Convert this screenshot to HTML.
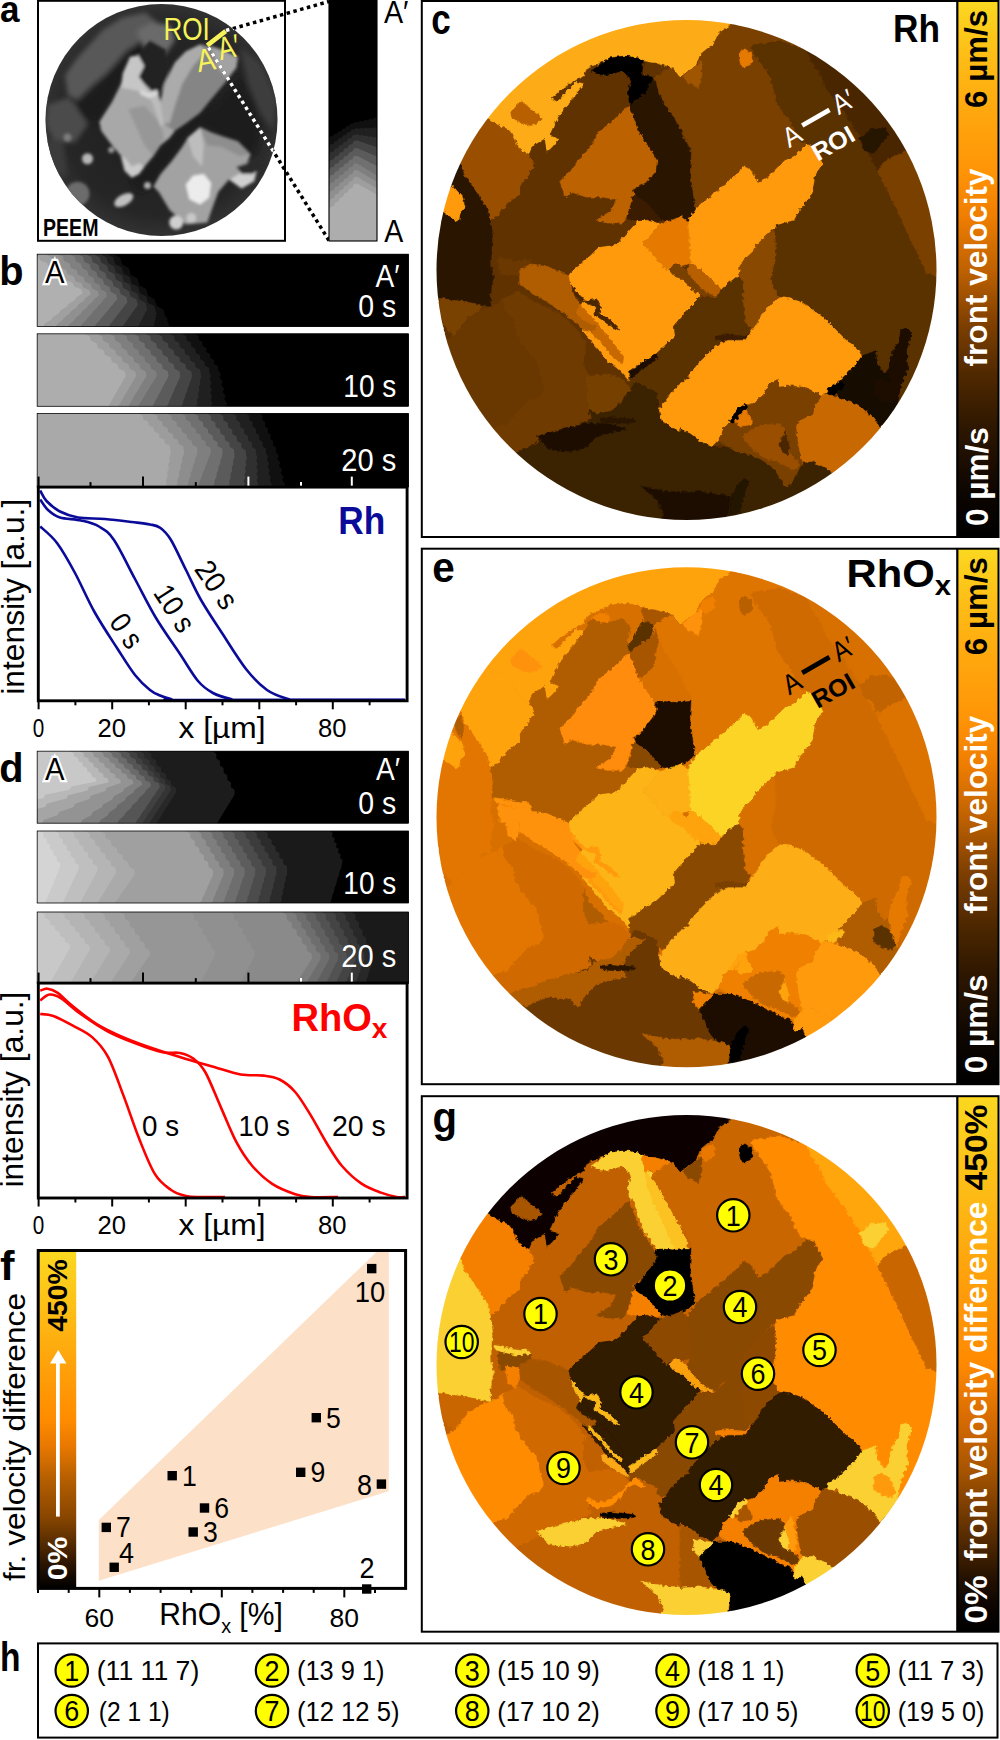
<!DOCTYPE html>
<html><head><meta charset="utf-8"><title>Figure</title>
<style>
html,body{margin:0;padding:0;background:#fff;}
svg{display:block;}
text{font-family:"Liberation Sans", sans-serif;}
</style></head><body>
<svg width="1000" height="1740" viewBox="0 0 1000 1740">
<rect x="0" y="0" width="1000" height="1740" fill="#fff"/>
<defs>
<clipPath id="peemclip"><circle cx="161.5" cy="120" r="116"/></clipPath>
<filter id="bl3" x="-20%" y="-20%" width="140%" height="140%"><feGaussianBlur stdDeviation="2.6"/></filter>
<filter id="bl2" x="-20%" y="-20%" width="140%" height="140%"><feGaussianBlur stdDeviation="1.6"/></filter>
<filter id="bl1" x="-20%" y="-20%" width="140%" height="140%"><feGaussianBlur stdDeviation="0.7"/></filter>
<radialGradient id="peembg" cx="0.5" cy="0.5" r="0.5"><stop offset="0" stop-color="#1c1c1c"/><stop offset="0.8" stop-color="#262626"/><stop offset="1" stop-color="#343434"/></radialGradient>
</defs>
<g clip-path="url(#peemclip)">
<rect x="40" y="0" width="245" height="240" fill="url(#peembg)"/>
<g filter="url(#bl3)">
<polygon points="65.0,75.0 77.5,57.5 102.5,30.0 122.5,17.5 145.0,12.5 157.5,22.5 147.5,37.5 127.5,50.0 107.5,72.5 90.0,87.5 77.5,100.0 67.5,95.0" fill="#595959"/>
<polygon points="47.5,105.0 67.5,97.5 82.5,110.0 87.5,125.0 75.0,142.5 55.0,142.5 46.2,125.0" fill="#4c4c4c"/>
<polygon points="137.5,30.0 152.5,22.5 170.0,25.0 175.0,40.0 165.0,55.0 150.0,60.0 140.0,50.0" fill="#6a6a6a"/>
<polygon points="45.0,140.0 62.5,140.0 67.5,175.0 50.0,175.0" fill="#3a3a3a"/>
<polygon points="240.0,47.5 260.0,62.5 277.5,100.0 272.5,130.0 260.0,112.5 247.5,82.5" fill="#3c3c3c"/>
<polygon points="75.0,105.0 105.0,77.5 125.0,57.5 140.0,40.0 152.5,60.0 122.5,82.5 100.0,122.5 85.0,120.0" fill="#1b1b1b"/>
<polygon points="130.0,179.4 144.4,166.8 160.6,145.2 175.0,130.8 185.8,123.6 200.2,112.8 211.0,120.0 200.2,127.2 187.6,138.0 171.4,161.4 160.6,174.0 153.4,186.6 139.0,192.0" fill="#1a1a1a"/>
<polygon points="180.0,120.0 215.0,105.0 240.0,75.0 255.0,105.0 260.0,140.0 252.5,157.5 230.0,142.5 200.0,126.2" fill="#1e1e1e"/>
</g>
<g filter="url(#bl2)">
<polygon points="160.6,102.0 164.2,84.0 175.0,62.4 185.8,51.6 200.2,44.4 211.0,46.2 221.8,49.8 238.0,57.0 236.2,67.8 225.4,82.2 216.4,93.0 207.4,103.8 200.2,112.8 185.8,123.6 175.0,130.8 164.2,123.6" fill="#858585"/>
<polygon points="160.6,102.0 164.2,84.0 175.0,62.4 185.8,51.6 200.2,44.4 205.6,51.6 193.0,66.0 182.2,84.0 175.0,105.6 169.6,123.6 164.2,123.6" fill="#ababab"/>
<polygon points="211.0,46.2 221.8,49.8 238.0,57.0 236.2,67.8 227.2,78.6 216.4,66.0" fill="#a2a2a2"/>
<polygon points="130.0,57.0 121.0,84.0 112.0,102.0 99.4,121.8 101.2,130.8 112.0,145.2 121.0,156.0 124.6,170.4 131.8,177.6 139.0,174.0 144.4,166.8 153.4,156.0 160.6,145.2 169.6,138.0 175.0,130.8 164.2,123.6 160.6,102.0 157.0,89.4 144.4,84.0 139.0,76.8 144.4,66.0 139.0,55.2" fill="#a8a8a8"/>
<polygon points="130.0,57.0 122.8,73.2 121.0,87.6 131.8,89.4 140.8,91.2 151.6,98.4 158.8,94.8 157.0,89.4 151.6,91.2 144.4,84.0 139.0,76.8 144.4,66.0 139.0,55.2" fill="#c6c6c6"/>
<polygon points="128.2,109.2 144.4,105.6 160.6,123.6 164.2,138.0 153.4,156.0 144.4,145.2" fill="#979797"/>
<polygon points="121.0,156.0 124.6,170.4 131.8,177.6 139.0,174.0 144.4,166.8 139.0,163.2 131.8,166.8 126.4,159.6" fill="#cacaca"/>
<polygon points="144.4,84.0 157.0,89.4 160.6,102.0 164.2,123.6 160.6,127.2 153.4,105.6" fill="#bcbcbc"/>
<polygon points="137.2,53.4 149.8,40.8 166.0,49.8 167.8,73.2 162.4,89.4 158.8,94.8 157.0,89.4 151.6,91.2 144.4,84.0 139.0,76.8 144.4,66.0" fill="#242424"/>
<polygon points="139.0,89.4 148.0,93.0 157.0,90.3 157.9,94.8 149.8,98.4 140.8,94.8" fill="#d8d8d8"/>
<polygon points="187.6,138.0 200.2,127.2 211.0,132.6 221.8,136.2 238.0,141.6 250.6,154.2 247.0,163.2 238.0,174.0 229.0,179.4 218.2,192.0 211.0,211.8 207.4,222.6 185.8,224.4 169.6,210.0 158.8,192.0 153.4,186.6 160.6,174.0 171.4,161.4 182.2,147.0" fill="#a2a2a2"/>
<polygon points="187.6,138.0 200.2,127.2 203.8,145.2 202.0,166.8 193.0,156.0" fill="#bdbdbd"/>
<polygon points="200.2,127.2 211.0,132.6 221.8,136.2 238.0,141.6 250.6,154.2 239.8,156.0 221.8,147.0 207.4,145.2" fill="#8e8e8e"/>
<polygon points="185.8,184.8 193.0,175.8 203.8,174.0 211.0,183.0 209.2,197.4 200.2,204.6 189.4,199.2" fill="#ececec"/>
<polygon points="229.0,179.4 238.0,174.0 247.0,163.2 257.8,166.8 254.2,181.2 241.6,188.4" fill="#d0d0d0"/>
<polygon points="236.2,166.8 247.0,163.2 257.8,156.0 265.0,166.8 252.4,174.0 241.6,174.0" fill="#2a2a2a"/>
<circle cx="87.5" cy="158.75" r="5.5" fill="#b8b8b8"/>
<circle cx="77.5" cy="193.75" r="12.0" fill="#6c6c6c"/>
<ellipse cx="123.75" cy="200.0" rx="10.5" ry="5.5" fill="#c0c0c0" transform="rotate(-30 123.75 200.0)"/>
<circle cx="147.5" cy="185.5" r="3.5" fill="#b0b0b0"/>
<circle cx="176.25" cy="222.5" r="7.0" fill="#cfcfcf"/>
<circle cx="191.25" cy="218.0" r="5.0" fill="#c8c8c8"/>
<circle cx="111.25" cy="150.0" r="3.0" fill="#9a9a9a"/>
<circle cx="67.5" cy="137.5" r="4.0" fill="#7c7c7c"/>
<circle cx="93.75" cy="226.25" r="7.5" fill="#3e3e3e"/>
</g>
</g>
<rect x="38" y="0.8" width="247" height="240" fill="none" stroke="#000" stroke-width="2"/>
<text x="43" y="235.5" font-size="24.5" fill="#000" font-weight="bold" textLength="55.5" lengthAdjust="spacingAndGlyphs">PEEM</text>
<text x="0" y="21.5" font-size="36" fill="#000" font-weight="bold" textLength="19.5" lengthAdjust="spacingAndGlyphs">a</text>
<text x="163.4" y="39.5" font-size="31.4" fill="#f6f25a" textLength="46.4" lengthAdjust="spacingAndGlyphs">ROI</text>
<text x="198.6" y="72.3" font-size="32" fill="#f6f25a" textLength="18.5" lengthAdjust="spacingAndGlyphs" transform="rotate(-10 198.6 72.3)">A</text>
<text x="220.6" y="60.3" font-size="32" fill="#f6f25a" textLength="21.5" lengthAdjust="spacingAndGlyphs" transform="rotate(-13 220.6 60.3)">A′</text>
<line x1="207.3" y1="45.3" x2="225.7" y2="31.2" stroke="#f6f25a" stroke-width="4.6"/>
<line x1="226" y1="30.5" x2="329" y2="1.5" stroke="#000" stroke-width="3.5" stroke-dasharray="3.5 3.5"/>
<line x1="226" y1="30.5" x2="329" y2="1.5" stroke="#fff" stroke-width="3.5" stroke-dasharray="3.5 3.5" clip-path="url(#peemclip)"/>
<line x1="208.5" y1="47.5" x2="329" y2="240.5" stroke="#000" stroke-width="3.5" stroke-dasharray="3.5 3.5"/>
<line x1="208.5" y1="47.5" x2="329" y2="240.5" stroke="#fff" stroke-width="3.5" stroke-dasharray="3.5 3.5" clip-path="url(#peemclip)"/>
<g transform="translate(329,241) rotate(-90) scale(0.6494,0.662) translate(-37.2,-333.8)">
<clipPath id="sc1"><rect x="37.2" y="333.8" width="371.1" height="72.5"/></clipPath>
<g clip-path="url(#sc1)">
<rect x="37.2" y="333.8" width="371.1" height="72.5" fill="#adadad"/>
<polygon points="84.0,333.8 89.7,336.3 91.0,340.8 96.6,343.3 97.9,347.8 103.6,350.3 104.9,354.8 110.6,357.3 111.9,361.8 117.5,364.3 118.8,368.8 124.5,371.3 125.8,375.9 123.8,379.5 122.3,381.9 120.3,385.6 118.8,388.0 116.8,391.7 115.3,394.1 113.3,397.8 111.8,400.2 109.8,403.9 108.3,406.3 413.3,406.3 413.3,333.8" fill="#9e9e9e"/>
<polygon points="96.6,333.8 102.1,336.3 103.2,340.8 108.7,343.3 109.8,347.8 115.2,350.3 116.4,354.8 121.8,357.3 123.0,361.8 128.4,364.3 129.6,368.8 135.0,371.3 136.2,375.9 134.1,379.5 132.6,381.9 130.5,385.6 129.0,388.0 126.9,391.7 125.4,394.1 123.3,397.8 121.8,400.2 119.7,403.9 118.2,406.3 413.3,406.3 413.3,333.8" fill="#8f8f8f"/>
<polygon points="109.2,333.8 114.4,336.3 115.4,340.8 120.7,343.3 121.6,347.8 126.9,350.3 127.9,354.8 133.1,357.3 134.1,361.8 139.3,364.3 140.3,368.8 145.5,371.3 146.5,375.9 144.3,379.5 142.8,381.9 140.7,385.6 139.2,388.0 137.0,391.7 135.5,394.1 133.3,397.8 131.8,400.2 129.6,403.9 128.1,406.3 413.3,406.3 413.3,333.8" fill="#7f7f7f"/>
<polygon points="121.8,333.8 126.8,336.3 127.7,340.8 132.7,343.3 133.5,347.8 138.5,350.3 139.3,354.8 144.4,357.3 145.2,361.8 150.2,364.3 151.1,368.8 156.1,371.3 156.9,375.9 154.6,379.5 153.1,381.9 150.8,385.6 149.3,388.0 147.1,391.7 145.6,394.1 143.3,397.8 141.8,400.2 139.5,403.9 138.0,406.3 413.3,406.3 413.3,333.8" fill="#707070"/>
<polygon points="133.5,333.8 138.5,336.3 139.3,340.8 144.4,343.3 145.2,347.8 150.2,350.3 151.1,354.8 156.1,357.3 156.9,361.8 161.9,364.3 162.8,368.8 167.8,371.3 168.6,375.9 166.9,379.5 165.4,381.9 163.6,385.6 162.1,388.0 160.4,391.7 158.9,394.1 157.1,397.8 155.6,400.2 153.9,403.9 152.4,406.3 413.3,406.3 413.3,333.8" fill="#5b5b5b"/>
<polygon points="145.2,333.8 150.2,336.3 151.0,340.8 156.1,343.3 156.9,347.8 161.9,350.3 162.8,354.8 167.8,357.3 168.6,361.8 173.6,364.3 174.5,368.8 179.5,371.3 180.3,375.9 179.1,379.5 177.6,381.9 176.4,385.6 174.9,388.0 173.7,391.7 172.2,394.1 171.0,397.8 169.5,400.2 168.3,403.9 166.8,406.3 413.3,406.3 413.3,333.8" fill="#454545"/>
<polygon points="156.9,333.8 161.9,336.3 162.8,340.8 167.8,343.3 168.6,347.8 173.6,350.3 174.4,354.8 179.5,357.3 180.3,361.8 185.3,364.3 186.2,368.8 191.2,371.3 192.0,375.9 191.3,379.5 189.8,381.9 189.2,385.6 187.7,388.0 187.0,391.7 185.5,394.1 184.9,397.8 183.4,400.2 182.7,403.9 181.2,406.3 413.3,406.3 413.3,333.8" fill="#303030"/>
<polygon points="169.5,333.8 174.1,336.1 174.7,340.5 179.3,342.8 179.9,347.2 184.5,349.5 185.1,353.9 189.7,356.2 190.3,360.5 194.9,362.9 195.5,367.2 200.1,369.6 200.7,373.9 201.2,377.8 199.7,380.4 200.3,384.3 198.8,386.9 199.4,390.8 197.9,393.3 198.5,397.2 197.0,399.8 197.5,403.7 196.0,406.3 413.3,406.3 413.3,333.8" fill="#202020"/>
<polygon points="182.1,333.8 186.3,336.0 186.6,340.2 190.9,342.4 191.2,346.5 195.4,348.8 195.7,352.9 199.9,355.1 200.3,359.3 204.5,361.5 204.8,365.6 209.0,367.8 209.3,372.0 211.1,376.1 209.6,378.8 211.4,383.0 209.9,385.7 211.8,389.8 210.3,392.6 212.1,396.7 210.6,399.4 212.4,403.6 210.9,406.3 413.3,406.3 413.3,333.8" fill="#101010"/>
<polygon points="194.7,333.8 198.5,335.9 198.6,339.8 202.4,342.0 202.5,345.9 206.3,348.0 206.3,351.9 210.2,354.0 210.2,358.0 214.1,360.1 214.1,364.0 217.9,366.1 218.0,370.1 221.0,374.4 219.5,377.3 222.6,381.7 221.1,384.6 224.1,388.9 222.6,391.8 225.7,396.2 224.2,399.1 227.2,403.4 225.7,406.3 413.3,406.3 413.3,333.8" fill="#000000"/>
</g>
<rect x="37.2" y="333.8" width="371.1" height="72.5" fill="none" stroke="#000" stroke-width="0.8"/>
</g>
<rect x="329" y="0.4" width="48" height="240.6" fill="none" stroke="#000" stroke-width="0.8"/>
<text x="384" y="22.8" font-size="32" fill="#000" textLength="24.5" lengthAdjust="spacingAndGlyphs">A′</text>
<text x="384.2" y="242" font-size="32" fill="#000" textLength="19" lengthAdjust="spacingAndGlyphs">A</text>
<clipPath id="sc2"><rect x="37.2" y="254.2" width="371.1" height="72.30000000000001"/></clipPath>
<g clip-path="url(#sc2)">
<rect x="37.2" y="254.2" width="371.1" height="72.30000000000001" fill="#b0b0b0"/>
<polygon points="32.0,254.2 38.6,256.5 40.5,260.7 47.0,263.0 48.9,267.2 55.5,269.5 57.4,273.7 64.0,276.0 65.9,280.2 72.4,282.5 74.3,286.7 80.9,289.0 82.8,293.2 76.4,297.2 74.9,299.9 68.5,303.9 67.0,306.5 60.5,310.5 59.0,313.2 52.6,317.2 51.1,319.8 44.7,323.8 43.2,326.5 413.3,326.5 413.3,254.2" fill="#a0a0a0"/>
<polygon points="44.5,254.2 50.7,256.5 52.3,260.9 58.4,263.2 60.0,267.6 66.1,269.9 67.7,274.3 73.8,276.6 75.4,281.0 81.6,283.3 83.1,287.6 89.3,290.0 90.9,294.3 85.3,298.2 83.8,300.8 78.3,304.6 76.8,307.2 71.2,311.1 69.7,313.6 64.2,317.5 62.7,320.1 57.2,323.9 55.7,326.5 413.3,326.5 413.3,254.2" fill="#909090"/>
<polygon points="57.1,254.2 62.8,256.6 64.0,261.1 69.7,263.5 71.0,267.9 76.7,270.3 78.0,274.8 83.7,277.2 85.0,281.7 90.7,284.1 92.0,288.5 97.6,290.9 98.9,295.4 94.3,299.1 92.8,301.6 88.1,305.4 86.6,307.8 82.0,311.6 80.5,314.1 75.8,317.8 74.3,320.3 69.6,324.0 68.1,326.5 413.3,326.5 413.3,254.2" fill="#808080"/>
<polygon points="69.6,254.2 74.8,256.7 75.8,261.2 81.1,263.7 82.1,268.3 87.3,270.8 88.3,275.3 93.5,277.8 94.5,282.4 99.8,284.9 100.8,289.4 106.0,291.9 107.0,296.5 103.2,300.1 101.7,302.5 97.9,306.1 96.4,308.5 92.7,312.1 91.2,314.5 87.4,318.1 85.9,320.5 82.1,324.1 80.6,326.5 413.3,326.5 413.3,254.2" fill="#707070"/>
<polygon points="77.7,254.2 83.1,256.8 84.3,261.7 89.7,264.3 90.9,269.2 96.3,271.9 97.5,276.7 102.9,279.4 104.1,284.2 109.5,286.9 110.7,291.8 116.1,294.4 117.3,299.3 114.2,302.5 112.7,304.7 109.7,308.0 108.2,310.2 105.1,313.4 103.6,315.6 100.6,318.9 99.1,321.1 96.0,324.3 94.5,326.5 413.3,326.5 413.3,254.2" fill="#5b5b5b"/>
<polygon points="85.7,254.2 91.4,257.0 92.7,262.2 98.4,265.0 99.7,270.1 105.3,272.9 106.6,278.1 112.3,280.9 113.6,286.1 119.3,288.9 120.6,294.1 126.2,296.9 127.5,302.0 125.2,305.0 123.7,306.9 121.4,309.9 119.9,311.8 117.6,314.8 116.1,316.7 113.8,319.7 112.3,321.6 110.0,324.5 108.5,326.5 413.3,326.5 413.3,254.2" fill="#454545"/>
<polygon points="93.8,254.2 99.7,257.2 101.1,262.6 107.0,265.6 108.5,271.1 114.4,274.0 115.8,279.5 121.7,282.5 123.1,287.9 129.0,290.9 130.5,296.4 136.4,299.3 137.8,304.8 136.2,307.4 134.7,309.1 133.1,311.8 131.6,313.5 130.1,316.1 128.6,317.8 127.0,320.4 125.5,322.2 123.9,324.8 122.4,326.5 413.3,326.5 413.3,254.2" fill="#303030"/>
<polygon points="100.4,254.2 106.6,257.4 108.2,263.3 114.3,266.5 115.9,272.4 122.1,275.5 123.7,281.4 129.8,284.6 131.4,290.5 137.6,293.7 139.2,299.6 145.4,302.8 147.0,308.7 146.6,310.8 145.1,312.2 144.8,314.4 143.3,315.8 143.0,317.9 141.5,319.4 141.1,321.5 139.6,322.9 139.3,325.1 137.8,326.5 413.3,326.5 413.3,254.2" fill="#202020"/>
<polygon points="107.0,254.2 113.4,257.6 115.2,263.9 121.6,267.3 123.4,273.6 129.8,277.0 131.6,283.4 138.0,286.8 139.8,293.1 146.2,296.5 147.9,302.8 154.4,306.2 156.1,312.5 157.0,314.2 155.5,315.3 156.5,317.0 155.0,318.1 155.9,319.8 154.4,320.9 155.3,322.6 153.8,323.7 154.7,325.4 153.2,326.5 413.3,326.5 413.3,254.2" fill="#101010"/>
<polygon points="113.6,254.2 120.3,257.8 122.2,264.6 128.9,268.2 130.8,274.9 137.5,278.6 139.4,285.3 146.1,288.9 148.1,295.7 154.7,299.3 156.7,306.0 163.4,309.6 165.3,316.4 167.5,317.6 166.0,318.4 168.1,319.6 166.6,320.4 168.8,321.6 167.3,322.5 169.4,323.7 167.9,324.5 170.1,325.7 168.6,326.5 413.3,326.5 413.3,254.2" fill="#000000"/>
</g>
<rect x="37.2" y="254.2" width="371.1" height="72.30000000000001" fill="none" stroke="#000" stroke-width="0.8"/>
<clipPath id="sc3"><rect x="37.2" y="333.8" width="371.1" height="72.5"/></clipPath>
<g clip-path="url(#sc3)">
<rect x="37.2" y="333.8" width="371.1" height="72.5" fill="#adadad"/>
<polygon points="84.0,333.8 89.7,336.3 91.0,340.8 96.6,343.3 97.9,347.8 103.6,350.3 104.9,354.8 110.6,357.3 111.9,361.8 117.5,364.3 118.8,368.8 124.5,371.3 125.8,375.9 123.8,379.5 122.3,381.9 120.3,385.6 118.8,388.0 116.8,391.7 115.3,394.1 113.3,397.8 111.8,400.2 109.8,403.9 108.3,406.3 413.3,406.3 413.3,333.8" fill="#9e9e9e"/>
<polygon points="96.6,333.8 102.1,336.3 103.2,340.8 108.7,343.3 109.8,347.8 115.2,350.3 116.4,354.8 121.8,357.3 123.0,361.8 128.4,364.3 129.6,368.8 135.0,371.3 136.2,375.9 134.1,379.5 132.6,381.9 130.5,385.6 129.0,388.0 126.9,391.7 125.4,394.1 123.3,397.8 121.8,400.2 119.7,403.9 118.2,406.3 413.3,406.3 413.3,333.8" fill="#8f8f8f"/>
<polygon points="109.2,333.8 114.4,336.3 115.4,340.8 120.7,343.3 121.6,347.8 126.9,350.3 127.9,354.8 133.1,357.3 134.1,361.8 139.3,364.3 140.3,368.8 145.5,371.3 146.5,375.9 144.3,379.5 142.8,381.9 140.7,385.6 139.2,388.0 137.0,391.7 135.5,394.1 133.3,397.8 131.8,400.2 129.6,403.9 128.1,406.3 413.3,406.3 413.3,333.8" fill="#7f7f7f"/>
<polygon points="121.8,333.8 126.8,336.3 127.7,340.8 132.7,343.3 133.5,347.8 138.5,350.3 139.3,354.8 144.4,357.3 145.2,361.8 150.2,364.3 151.1,368.8 156.1,371.3 156.9,375.9 154.6,379.5 153.1,381.9 150.8,385.6 149.3,388.0 147.1,391.7 145.6,394.1 143.3,397.8 141.8,400.2 139.5,403.9 138.0,406.3 413.3,406.3 413.3,333.8" fill="#707070"/>
<polygon points="133.5,333.8 138.5,336.3 139.3,340.8 144.4,343.3 145.2,347.8 150.2,350.3 151.1,354.8 156.1,357.3 156.9,361.8 161.9,364.3 162.8,368.8 167.8,371.3 168.6,375.9 166.9,379.5 165.4,381.9 163.6,385.6 162.1,388.0 160.4,391.7 158.9,394.1 157.1,397.8 155.6,400.2 153.9,403.9 152.4,406.3 413.3,406.3 413.3,333.8" fill="#5b5b5b"/>
<polygon points="145.2,333.8 150.2,336.3 151.0,340.8 156.1,343.3 156.9,347.8 161.9,350.3 162.8,354.8 167.8,357.3 168.6,361.8 173.6,364.3 174.5,368.8 179.5,371.3 180.3,375.9 179.1,379.5 177.6,381.9 176.4,385.6 174.9,388.0 173.7,391.7 172.2,394.1 171.0,397.8 169.5,400.2 168.3,403.9 166.8,406.3 413.3,406.3 413.3,333.8" fill="#454545"/>
<polygon points="156.9,333.8 161.9,336.3 162.8,340.8 167.8,343.3 168.6,347.8 173.6,350.3 174.4,354.8 179.5,357.3 180.3,361.8 185.3,364.3 186.2,368.8 191.2,371.3 192.0,375.9 191.3,379.5 189.8,381.9 189.2,385.6 187.7,388.0 187.0,391.7 185.5,394.1 184.9,397.8 183.4,400.2 182.7,403.9 181.2,406.3 413.3,406.3 413.3,333.8" fill="#303030"/>
<polygon points="169.5,333.8 174.1,336.1 174.7,340.5 179.3,342.8 179.9,347.2 184.5,349.5 185.1,353.9 189.7,356.2 190.3,360.5 194.9,362.9 195.5,367.2 200.1,369.6 200.7,373.9 201.2,377.8 199.7,380.4 200.3,384.3 198.8,386.9 199.4,390.8 197.9,393.3 198.5,397.2 197.0,399.8 197.5,403.7 196.0,406.3 413.3,406.3 413.3,333.8" fill="#202020"/>
<polygon points="182.1,333.8 186.3,336.0 186.6,340.2 190.9,342.4 191.2,346.5 195.4,348.8 195.7,352.9 199.9,355.1 200.3,359.3 204.5,361.5 204.8,365.6 209.0,367.8 209.3,372.0 211.1,376.1 209.6,378.8 211.4,383.0 209.9,385.7 211.8,389.8 210.3,392.6 212.1,396.7 210.6,399.4 212.4,403.6 210.9,406.3 413.3,406.3 413.3,333.8" fill="#101010"/>
<polygon points="194.7,333.8 198.5,335.9 198.6,339.8 202.4,342.0 202.5,345.9 206.3,348.0 206.3,351.9 210.2,354.0 210.2,358.0 214.1,360.1 214.1,364.0 217.9,366.1 218.0,370.1 221.0,374.4 219.5,377.3 222.6,381.7 221.1,384.6 224.1,388.9 222.6,391.8 225.7,396.2 224.2,399.1 227.2,403.4 225.7,406.3 413.3,406.3 413.3,333.8" fill="#000000"/>
</g>
<rect x="37.2" y="333.8" width="371.1" height="72.5" fill="none" stroke="#000" stroke-width="0.8"/>
<clipPath id="sc4"><rect x="37.2" y="413.5" width="371.1" height="73.5"/></clipPath>
<g clip-path="url(#sc4)">
<rect x="37.2" y="413.5" width="371.1" height="73.5" fill="#a9a9a9"/>
<polygon points="138.0,413.5 142.7,415.6 143.4,419.5 148.1,421.6 148.8,425.5 153.5,427.6 154.2,431.5 158.9,433.6 159.6,437.5 164.3,439.6 165.0,443.5 169.7,445.6 170.4,449.5 170.8,454.0 169.3,457.0 169.7,461.5 168.2,464.5 168.7,469.0 167.2,472.0 167.6,476.5 166.1,479.5 166.5,484.0 165.0,487.0 413.3,487 413.3,413.5" fill="#9c9c9c"/>
<polygon points="152.4,413.5 157.1,415.6 157.7,419.6 162.3,421.8 162.9,425.8 167.6,427.9 168.2,431.9 172.8,434.0 173.4,438.0 178.1,440.1 178.7,444.1 183.3,446.3 183.9,450.2 183.8,454.7 182.3,457.6 182.2,462.0 180.7,464.9 180.5,469.4 179.0,472.3 178.9,476.7 177.4,479.6 177.3,484.1 175.8,487.0 413.3,487 413.3,413.5" fill="#8d8d8d"/>
<polygon points="166.8,413.5 171.4,415.7 171.9,419.7 176.5,421.9 177.0,426.0 181.6,428.2 182.1,432.2 186.7,434.4 187.2,438.5 191.8,440.7 192.3,444.7 196.9,446.9 197.4,451.0 196.7,455.3 195.2,458.2 194.6,462.5 193.1,465.4 192.4,469.7 190.9,472.6 190.3,476.9 188.8,479.8 188.1,484.1 186.6,487.0 413.3,487 413.3,413.5" fill="#7f7f7f"/>
<polygon points="181.2,413.5 185.7,415.7 186.1,419.9 190.6,422.1 191.1,426.2 195.6,428.5 196.1,432.6 200.5,434.8 201.0,439.0 205.5,441.2 205.9,445.4 210.4,447.6 210.9,451.7 209.7,456.0 208.2,458.8 207.0,463.0 205.5,465.8 204.3,470.1 202.8,472.9 201.6,477.1 200.1,479.9 198.9,484.2 197.4,487.0 413.3,487 413.3,413.5" fill="#707070"/>
<polygon points="193.8,413.5 198.2,415.8 198.6,420.0 203.0,422.3 203.4,426.6 207.8,428.9 208.2,433.1 212.6,435.4 213.0,439.6 217.4,441.9 217.8,446.2 222.2,448.5 222.6,452.7 222.1,456.8 220.6,459.6 220.1,463.7 218.6,466.4 218.2,470.5 216.7,473.3 216.2,477.4 214.7,480.1 214.2,484.3 212.7,487.0 413.3,487 413.3,413.5" fill="#5b5b5b"/>
<polygon points="206.4,413.5 210.7,415.8 211.1,420.2 215.3,422.5 215.7,426.9 220.0,429.2 220.4,433.6 224.6,435.9 225.0,440.3 229.3,442.6 229.7,447.0 233.9,449.3 234.3,453.7 234.5,457.7 233.0,460.3 233.3,464.3 231.8,467.0 232.0,471.0 230.5,473.7 230.8,477.7 229.3,480.3 229.5,484.3 228.0,487.0 413.3,487 413.3,413.5" fill="#454545"/>
<polygon points="219.0,413.5 223.2,415.9 223.5,420.4 227.7,422.8 228.0,427.2 232.2,429.6 232.5,434.1 236.7,436.5 237.0,440.9 241.2,443.3 241.5,447.8 245.7,450.2 246.0,454.7 247.0,458.5 245.5,461.1 246.4,465.0 244.9,467.6 245.9,471.5 244.4,474.1 245.3,477.9 243.8,480.5 244.8,484.4 243.3,487.0 413.3,487 413.3,413.5" fill="#303030"/>
<polygon points="232.5,413.5 236.3,415.8 236.4,420.2 240.2,422.5 240.3,426.9 244.1,429.2 244.2,433.6 248.0,435.9 248.1,440.3 251.9,442.6 252.0,447.0 255.8,449.3 255.9,453.7 257.6,457.7 256.1,460.3 257.8,464.3 256.3,467.0 257.9,471.0 256.4,473.7 258.1,477.7 256.6,480.3 258.3,484.3 256.8,487.0 413.3,487 413.3,413.5" fill="#202020"/>
<polygon points="246.0,413.5 249.5,415.8 249.3,420.0 252.8,422.3 252.6,426.6 256.1,428.9 255.9,433.1 259.4,435.4 259.2,439.6 262.7,441.9 262.5,446.2 266.0,448.5 265.8,452.7 268.2,456.8 266.7,459.6 269.1,463.7 267.6,466.4 270.0,470.5 268.5,473.3 270.9,477.4 269.4,480.1 271.8,484.3 270.3,487.0 413.3,487 413.3,413.5" fill="#101010"/>
<polygon points="259.5,413.5 262.6,415.7 262.2,419.9 265.3,422.1 264.9,426.2 268.0,428.5 267.6,432.6 270.7,434.8 270.3,439.0 273.4,441.2 273.0,445.4 276.1,447.6 275.7,451.7 278.8,456.0 277.3,458.8 280.4,463.0 278.9,465.8 282.1,470.1 280.6,472.9 283.7,477.1 282.2,479.9 285.3,484.2 283.8,487.0 413.3,487 413.3,413.5" fill="#000000"/>
</g>
<rect x="37.2" y="413.5" width="371.1" height="73.5" fill="none" stroke="#000" stroke-width="0.8"/>
<text x="-0.8" y="285" font-size="40.5" fill="#000" font-weight="bold" textLength="24.3" lengthAdjust="spacingAndGlyphs">b</text>
<text x="45" y="283.2" font-size="31.4" fill="#000" stroke="#fff" stroke-width="4.5" stroke-linejoin="miter" paint-order="stroke" textLength="19.5" lengthAdjust="spacingAndGlyphs">A</text>
<text x="375.5" y="286.8" font-size="31.5" fill="#fff" textLength="24" lengthAdjust="spacingAndGlyphs">A′</text>
<text x="396.3" y="317.1" font-size="30.5" fill="#fff" text-anchor="end" textLength="38" lengthAdjust="spacingAndGlyphs">0 s</text>
<text x="396.3" y="396.8" font-size="30.5" fill="#fff" text-anchor="end" textLength="53" lengthAdjust="spacingAndGlyphs">10 s</text>
<text x="396.3" y="470.6" font-size="30.5" fill="#fff" text-anchor="end" textLength="55" lengthAdjust="spacingAndGlyphs">20 s</text>
<line x1="38.6" y1="487.1" x2="38.6" y2="476.6" stroke="#000" stroke-width="2"/>
<line x1="90.5" y1="487.1" x2="90.5" y2="482.1" stroke="#000" stroke-width="2"/>
<line x1="143" y1="487.1" x2="143" y2="476.6" stroke="#000" stroke-width="2"/>
<line x1="195.8" y1="487.1" x2="195.8" y2="482.1" stroke="#000" stroke-width="2"/>
<line x1="248.4" y1="487.1" x2="248.4" y2="476.6" stroke="#fff" stroke-width="2"/>
<line x1="301" y1="487.1" x2="301" y2="482.1" stroke="#fff" stroke-width="2"/>
<line x1="351.8" y1="487.1" x2="351.8" y2="476.6" stroke="#fff" stroke-width="2"/>
<rect x="38.3" y="487.1" width="368.8" height="213.69999999999993" fill="#fff"/>
<path d="M40.2,526.5 C43.0,529.2 51.2,535.2 57.0,543.0 C62.8,550.8 68.8,561.5 75.0,573.0 C81.2,584.5 87.5,599.5 94.5,612.0 C101.5,624.5 110.2,637.5 117.0,648.0 C123.8,658.5 129.5,668.0 135.0,675.0 C140.5,682.0 145.8,686.6 150.0,690.0 C154.2,693.4 156.5,694.0 160.0,695.5 C163.5,697.0 166.8,698.2 171.0,699.0 C175.2,699.8 146.0,699.8 185.0,700.0 C224.0,700.2 368.3,700.0 405.0,700.0" fill="none" stroke="#0b0b9a" stroke-width="2.6" stroke-linejoin="round"/>
<path d="M40.2,499.5 C41.5,501.2 44.7,507.0 48.0,510.0 C51.3,513.0 54.5,515.8 60.0,517.5 C65.5,519.2 74.5,519.0 81.0,520.5 C87.5,522.0 93.5,523.2 99.0,526.5 C104.5,529.8 108.0,531.2 114.0,540.0 C120.0,548.8 128.0,566.0 135.0,579.0 C142.0,592.0 148.5,605.5 156.0,618.0 C163.5,630.5 173.0,643.5 180.0,654.0 C187.0,664.5 192.5,674.5 198.0,681.0 C203.5,687.5 207.5,690.0 213.0,693.0 C218.5,696.0 225.7,697.8 231.0,699.0 C236.3,700.2 216.0,699.8 245.0,700.0 C274.0,700.2 378.3,700.0 405.0,700.0" fill="none" stroke="#0b0b9a" stroke-width="2.6" stroke-linejoin="round"/>
<path d="M40.2,490.5 C41.2,492.2 43.2,497.5 46.5,501.0 C49.8,504.5 54.8,508.8 60.0,511.5 C65.2,514.2 70.5,516.2 78.0,517.5 C85.5,518.8 96.0,518.2 105.0,519.0 C114.0,519.8 124.5,521.1 132.0,522.0 C139.5,522.9 145.2,523.4 150.0,524.4 C154.8,525.4 157.0,525.4 160.5,528.0 C164.0,530.6 166.8,533.0 171.0,540.0 C175.2,547.0 181.0,560.0 186.0,570.0 C191.0,580.0 195.0,589.5 201.0,600.0 C207.0,610.5 214.5,621.5 222.0,633.0 C229.5,644.5 238.5,659.5 246.0,669.0 C253.5,678.5 260.0,685.0 267.0,690.0 C274.0,695.0 282.5,697.3 288.0,699.0 C293.5,700.7 280.5,699.8 300.0,700.0 C319.5,700.2 387.5,700.0 405.0,700.0" fill="none" stroke="#0b0b9a" stroke-width="2.6" stroke-linejoin="round"/>
<rect x="38.3" y="487.1" width="368.8" height="213.69999999999993" fill="none" stroke="#000" stroke-width="2.9"/>
<line x1="38.6" y1="700.8" x2="38.6" y2="709.3" stroke="#000" stroke-width="2"/>
<line x1="75.4" y1="700.8" x2="75.4" y2="705.3" stroke="#000" stroke-width="2"/>
<line x1="112.2" y1="700.8" x2="112.2" y2="709.3" stroke="#000" stroke-width="2"/>
<line x1="148.9" y1="700.8" x2="148.9" y2="705.3" stroke="#000" stroke-width="2"/>
<line x1="185.7" y1="700.8" x2="185.7" y2="709.3" stroke="#000" stroke-width="2"/>
<line x1="222.5" y1="700.8" x2="222.5" y2="705.3" stroke="#000" stroke-width="2"/>
<line x1="259.3" y1="700.8" x2="259.3" y2="709.3" stroke="#000" stroke-width="2"/>
<line x1="296.1" y1="700.8" x2="296.1" y2="705.3" stroke="#000" stroke-width="2"/>
<line x1="332.8" y1="700.8" x2="332.8" y2="709.3" stroke="#000" stroke-width="2"/>
<line x1="369.6" y1="700.8" x2="369.6" y2="705.3" stroke="#000" stroke-width="2"/>
<text x="38.4" y="736.5999999999999" font-size="25" fill="#000" text-anchor="middle" textLength="11.5" lengthAdjust="spacingAndGlyphs">0</text>
<text x="111.7" y="736.5999999999999" font-size="25" fill="#000" text-anchor="middle" textLength="28.5" lengthAdjust="spacingAndGlyphs">20</text>
<text x="332.3" y="736.5999999999999" font-size="25" fill="#000" text-anchor="middle" textLength="28.5" lengthAdjust="spacingAndGlyphs">80</text>
<text x="178.5" y="737.5999999999999" font-size="29" fill="#000" textLength="87" lengthAdjust="spacingAndGlyphs">x [µm]</text>
<text x="23.5" y="596.75" font-size="31.5" fill="#000" text-anchor="middle" textLength="196" lengthAdjust="spacingAndGlyphs" transform="rotate(-90 23.5 596.75)">intensity [a.u.]</text>
<text x="338.3" y="533.6" font-size="39.4" fill="#0b0b9a" font-weight="bold" textLength="47" lengthAdjust="spacingAndGlyphs">Rh</text>
<text x="127" y="630.5" font-size="29.5" text-anchor="middle" textLength="35" lengthAdjust="spacingAndGlyphs" transform="rotate(55 127 630.5) translate(0 10.6)">0 s</text>
<text x="175" y="608" font-size="29.5" text-anchor="middle" textLength="50" lengthAdjust="spacingAndGlyphs" transform="rotate(57 175 608) translate(0 10.6)">10 s</text>
<text x="217" y="584.5" font-size="29.5" text-anchor="middle" textLength="52" lengthAdjust="spacingAndGlyphs" transform="rotate(55 217 584.5) translate(0 10.6)">20 s</text>
<clipPath id="sc5"><rect x="37.2" y="751.2" width="371.1" height="72.0"/></clipPath>
<g clip-path="url(#sc5)">
<rect x="37.2" y="751.2" width="371.1" height="72.0" fill="#c8c8c8"/>
<polygon points="69.6,751.2 73.7,753.0 74.0,756.2 78.1,758.0 78.4,761.3 82.5,763.0 82.8,766.3 86.9,768.1 87.2,771.4 91.3,773.1 91.6,776.4 95.7,778.2 96.0,781.4 71.3,786.5 69.8,789.8 45.1,794.8 43.6,798.1 18.9,803.2 17.4,806.5 -7.3,811.5 -8.8,814.8 -33.5,819.9 -35.0,823.2 413.3,823.2 413.3,751.2" fill="#b8b8b8"/>
<polygon points="79.1,751.2 83.5,753.0 84.0,756.4 88.4,758.2 88.9,761.5 93.3,763.3 93.8,766.7 98.2,768.5 98.7,771.8 103.1,773.6 103.6,777.0 108.0,778.8 108.5,782.2 89.0,787.1 87.5,790.4 68.0,795.3 66.5,798.6 47.0,803.5 45.5,806.8 26.0,811.7 24.5,815.0 5.0,819.9 3.5,823.2 413.3,823.2 413.3,751.2" fill="#a5a5a5"/>
<polygon points="88.5,751.2 93.3,753.0 93.9,756.5 98.7,758.3 99.3,761.8 104.1,763.6 104.7,767.0 109.5,768.9 110.1,772.3 114.9,774.2 115.5,777.6 120.3,779.4 120.9,782.9 106.7,787.7 105.2,790.9 90.9,795.8 89.4,799.0 75.1,803.8 73.6,807.1 59.3,811.9 57.8,815.1 43.6,820.0 42.1,823.2 413.3,823.2 413.3,751.2" fill="#939393"/>
<polygon points="98.0,751.2 103.0,753.1 103.9,756.6 108.9,758.5 109.8,762.0 114.8,763.9 115.7,767.4 120.7,769.3 121.6,772.8 126.6,774.7 127.5,778.2 132.5,780.1 133.4,783.6 124.3,788.4 122.8,791.5 113.8,796.3 112.3,799.4 103.2,804.2 101.7,807.4 92.7,812.1 91.2,815.3 82.1,820.0 80.6,823.2 413.3,823.2 413.3,751.2" fill="#808080"/>
<polygon points="106.9,751.2 111.9,753.2 112.8,756.8 117.8,758.8 118.6,762.4 123.7,764.4 124.5,768.0 129.6,770.0 130.4,773.6 135.5,775.6 136.3,779.2 141.3,781.2 142.2,784.8 135.0,789.4 133.5,792.5 126.4,797.1 124.9,800.2 117.7,804.8 116.2,807.8 109.1,812.4 107.6,815.5 100.4,820.1 98.9,823.2 413.3,823.2 413.3,751.2" fill="#6b6b6b"/>
<polygon points="115.7,751.2 120.8,753.2 121.6,757.0 126.6,759.0 127.5,762.8 132.5,764.8 133.4,768.6 138.4,770.6 139.2,774.4 144.3,776.4 145.1,780.2 150.1,782.2 151.0,786.0 145.8,790.5 144.3,793.4 139.0,797.9 137.5,800.9 132.3,805.3 130.8,808.3 125.5,812.8 124.0,815.8 118.8,820.2 117.3,823.2 413.3,823.2 413.3,751.2" fill="#555555"/>
<polygon points="124.6,751.2 129.6,753.3 130.5,757.2 135.5,759.3 136.3,763.2 141.4,765.3 142.2,769.2 147.2,771.3 148.1,775.2 153.1,777.3 153.9,781.2 159.0,783.3 159.8,787.2 156.5,791.5 155.0,794.4 151.6,798.7 150.1,801.6 146.8,805.9 145.3,808.8 141.9,813.1 140.4,816.0 137.1,820.3 135.6,823.2 413.3,823.2 413.3,751.2" fill="#404040"/>
<polygon points="131.9,751.2 136.8,753.4 137.5,757.5 142.3,759.7 143.1,763.8 147.9,766.0 148.6,770.0 153.5,772.2 154.2,776.3 159.0,778.5 159.7,782.6 164.6,784.8 165.3,788.9 162.3,793.0 160.8,795.7 157.7,799.9 156.2,802.6 153.2,806.7 151.7,809.5 148.6,813.6 147.1,816.3 144.1,820.5 142.6,823.2 413.3,823.2 413.3,751.2" fill="#343434"/>
<polygon points="139.3,751.2 143.9,753.5 144.5,757.8 149.2,760.1 149.8,764.3 154.4,766.6 155.0,770.9 159.7,773.2 160.3,777.4 164.9,779.7 165.5,784.0 170.2,786.3 170.8,790.6 168.0,794.5 166.5,797.1 163.8,801.0 162.3,803.6 159.5,807.5 158.0,810.1 155.3,814.1 153.8,816.7 151.0,820.6 149.5,823.2 413.3,823.2 413.3,751.2" fill="#282828"/>
<polygon points="146.6,751.2 151.1,753.6 151.6,758.0 156.0,760.4 156.5,764.9 161.0,767.3 161.4,771.7 165.9,774.1 166.4,778.6 170.9,781.0 171.4,785.4 175.8,787.8 176.3,792.2 173.8,796.0 172.3,798.4 169.9,802.1 168.4,804.6 165.9,808.3 164.4,810.8 162.0,814.5 160.5,817.0 158.0,820.7 156.5,823.2 413.3,823.2 413.3,751.2" fill="#1c1c1c"/>
<polygon points="212.6,751.2 216.3,753.7 216.3,758.4 220.0,760.9 219.9,765.6 223.6,768.1 223.6,772.8 227.3,775.3 227.3,780.0 231.0,782.5 230.9,787.2 234.6,789.7 234.6,794.4 232.6,797.9 231.1,800.2 229.1,803.6 227.6,805.9 225.5,809.4 224.0,811.7 222.0,815.1 220.5,817.4 218.5,820.9 217.0,823.2 413.3,823.2 413.3,751.2" fill="#000000"/>
</g>
<rect x="37.2" y="751.2" width="371.1" height="72.0" fill="none" stroke="#000" stroke-width="0.8"/>
<clipPath id="sc6"><rect x="37.2" y="831" width="371.1" height="72"/></clipPath>
<g clip-path="url(#sc6)">
<rect x="37.2" y="831" width="371.1" height="72" fill="#d4d4d4"/>
<polygon points="40.0,831.0 43.5,833.1 43.3,837.0 46.8,839.1 46.7,843.0 50.2,845.1 50.0,849.0 53.5,851.1 53.3,855.0 56.8,857.1 56.7,861.0 60.2,863.1 60.0,867.0 58.5,871.3 57.0,874.2 55.5,878.5 54.0,881.4 52.5,885.7 51.0,888.6 49.5,892.9 48.0,895.8 46.5,900.1 45.0,903.0 413.3,903 413.3,831" fill="#cacaca"/>
<polygon points="55.0,831.0 58.9,833.2 59.0,837.3 62.8,839.5 62.9,843.6 66.8,845.8 66.9,849.9 70.8,852.1 70.8,856.2 74.7,858.4 74.8,862.5 78.7,864.7 78.8,868.8 77.0,872.9 75.5,875.6 73.8,879.7 72.2,882.5 70.5,886.6 69.0,889.3 67.2,893.4 65.8,896.2 64.0,900.3 62.5,903.0 413.3,903 413.3,831" fill="#bfbfbf"/>
<polygon points="70.0,831.0 74.2,833.3 74.6,837.6 78.8,839.9 79.2,844.2 83.4,846.5 83.8,850.8 88.0,853.1 88.3,857.4 92.6,859.7 92.9,864.0 97.2,866.3 97.5,870.6 95.5,874.5 94.0,877.1 92.0,881.0 90.5,883.6 88.5,887.4 87.0,890.0 85.0,893.9 83.5,896.5 81.5,900.4 80.0,903.0 413.3,903 413.3,831" fill="#b5b5b5"/>
<polygon points="85.0,831.0 89.6,833.4 90.2,837.9 94.8,840.3 95.4,844.8 100.0,847.2 100.6,851.7 105.2,854.1 105.8,858.6 110.5,861.0 111.0,865.5 115.7,867.9 116.2,872.4 114.0,876.1 112.5,878.5 110.2,882.2 108.8,884.6 106.5,888.3 105.0,890.8 102.8,894.4 101.2,896.9 99.0,900.6 97.5,903.0 413.3,903 413.3,831" fill="#aaaaaa"/>
<polygon points="100.0,831.0 105.0,833.5 105.8,838.2 110.8,840.7 111.7,845.4 116.7,847.9 117.5,852.6 122.5,855.1 123.3,859.8 128.3,862.3 129.2,867.0 134.2,869.5 135.0,874.2 132.5,877.7 131.0,880.0 128.5,883.4 127.0,885.7 124.5,889.2 123.0,891.5 120.5,894.9 119.0,897.2 116.5,900.7 115.0,903.0 413.3,903 413.3,831" fill="#a0a0a0"/>
<polygon points="186.0,831.0 190.2,833.5 190.5,838.2 194.7,840.7 195.0,845.4 199.2,847.9 199.5,852.6 203.7,855.1 204.0,859.8 208.2,862.3 208.5,867.0 212.7,869.5 213.0,874.2 211.9,877.7 210.4,880.0 209.3,883.4 207.8,885.7 206.7,889.2 205.2,891.5 204.1,894.9 202.6,897.2 201.5,900.7 200.0,903.0 413.3,903 413.3,831" fill="#8f8f8f"/>
<polygon points="197.1,831.0 201.3,833.5 201.5,838.1 205.7,840.6 206.0,845.2 210.1,847.7 210.4,852.3 214.5,854.8 214.8,859.5 218.9,861.9 219.2,866.6 223.3,869.1 223.6,873.7 222.6,877.2 221.1,879.5 220.2,883.1 218.7,885.4 217.8,888.9 216.3,891.3 215.4,894.8 213.9,897.1 212.9,900.7 211.4,903.0 413.3,903 413.3,831" fill="#7e7e7e"/>
<polygon points="208.3,831.0 212.4,833.5 212.6,838.0 216.7,840.5 216.9,845.1 221.0,847.5 221.2,852.1 225.3,854.5 225.5,859.1 229.6,861.6 229.8,866.1 233.9,868.6 234.1,873.2 233.4,876.8 231.9,879.1 231.1,882.7 229.6,885.1 228.9,888.7 227.4,891.1 226.6,894.6 225.1,897.0 224.4,900.6 222.9,903.0 413.3,903 413.3,831" fill="#6e6e6e"/>
<polygon points="219.4,831.0 223.5,833.4 223.6,837.9 227.7,840.4 227.9,844.9 231.9,847.3 232.1,851.8 236.1,854.3 236.3,858.8 240.3,861.2 240.5,865.7 244.5,868.1 244.7,872.7 244.1,876.3 242.6,878.7 242.0,882.4 240.5,884.8 240.0,888.4 238.5,890.9 237.9,894.5 236.4,896.9 235.8,900.6 234.3,903.0 413.3,903 413.3,831" fill="#5d5d5d"/>
<polygon points="230.6,831.0 234.5,833.4 234.7,837.9 238.7,840.3 238.8,844.7 242.8,847.1 242.9,851.6 246.9,854.0 247.0,858.4 251.0,860.8 251.2,865.3 255.1,867.7 255.3,872.1 254.9,875.8 253.4,878.3 253.0,882.0 251.5,884.5 251.0,888.2 249.5,890.7 249.1,894.4 247.6,896.8 247.2,900.5 245.7,903.0 413.3,903 413.3,831" fill="#4c4c4c"/>
<polygon points="241.7,831.0 245.6,833.4 245.7,837.8 249.7,840.1 249.8,844.5 253.7,846.9 253.8,851.3 257.7,853.7 257.8,858.1 261.7,860.5 261.8,864.9 265.7,867.2 265.9,871.6 265.6,875.4 264.1,877.9 263.9,881.7 262.4,884.2 262.1,887.9 260.6,890.5 260.4,894.2 258.9,896.7 258.6,900.5 257.1,903.0 413.3,903 413.3,831" fill="#3c3c3c"/>
<polygon points="252.9,831.0 256.7,833.3 256.8,837.7 260.6,840.0 260.7,844.4 264.6,846.7 264.6,851.1 268.5,853.4 268.6,857.7 272.4,860.1 272.5,864.4 276.4,866.8 276.4,871.1 276.4,874.9 274.9,877.5 274.8,881.3 273.3,883.9 273.2,887.7 271.7,890.2 271.6,894.1 270.1,896.6 270.1,900.4 268.6,903.0 413.3,903 413.3,831" fill="#2b2b2b"/>
<polygon points="264.0,831.0 267.8,833.3 267.8,837.6 271.6,839.9 271.7,844.2 275.5,846.5 275.5,850.8 279.3,853.1 279.3,857.4 283.1,859.7 283.2,864.0 287.0,866.3 287.0,870.6 287.1,874.5 285.6,877.1 285.7,881.0 284.2,883.6 284.3,887.4 282.8,890.0 282.9,893.9 281.4,896.5 281.5,900.4 280.0,903.0 413.3,903 413.3,831" fill="#1a1a1a"/>
<polygon points="330.0,831.0 332.7,832.9 332.0,836.4 334.7,838.3 334.0,841.8 336.7,843.7 336.0,847.2 338.7,849.1 338.0,852.6 340.7,854.5 340.0,858.0 342.7,859.9 342.0,863.4 341.1,868.2 339.6,871.3 338.7,876.1 337.2,879.2 336.3,884.0 334.8,887.2 333.9,891.9 332.4,895.1 331.5,899.8 330.0,903.0 413.3,903 413.3,831" fill="#000000"/>
</g>
<rect x="37.2" y="831" width="371.1" height="72" fill="none" stroke="#000" stroke-width="0.8"/>
<clipPath id="sc7"><rect x="37.2" y="912" width="371.1" height="71.5"/></clipPath>
<g clip-path="url(#sc7)">
<rect x="37.2" y="912" width="371.1" height="71.5" fill="#c8c8c8"/>
<polygon points="40.0,912.0 44.5,914.1 45.0,918.0 49.5,920.0 50.0,923.9 54.5,926.0 55.0,929.9 59.5,932.0 60.0,935.8 64.5,937.9 65.0,941.8 69.5,943.9 70.0,947.8 67.5,952.0 66.0,954.9 63.5,959.2 62.0,962.0 59.5,966.3 58.0,969.2 55.5,973.5 54.0,976.4 51.5,980.6 50.0,983.5 413.3,983.5 413.3,912" fill="#bebebe"/>
<polygon points="60.0,912.0 64.5,914.2 65.0,918.3 69.5,920.4 70.0,924.5 74.5,926.7 75.0,930.8 79.5,933.0 80.0,937.0 84.5,939.2 85.0,943.3 89.5,945.5 90.0,949.5 87.5,953.6 86.0,956.3 83.5,960.4 82.0,963.1 79.5,967.2 78.0,969.9 75.5,974.0 74.0,976.7 71.5,980.8 70.0,983.5 413.3,983.5 413.3,912" fill="#b4b4b4"/>
<polygon points="80.0,912.0 84.5,914.3 85.0,918.6 89.5,920.8 90.0,925.1 94.5,927.4 95.0,931.7 99.5,934.0 100.0,938.2 104.5,940.5 105.0,944.8 109.5,947.1 110.0,951.3 107.5,955.2 106.0,957.8 103.5,961.6 102.0,964.2 99.5,968.1 98.0,970.6 95.5,974.5 94.0,977.1 91.5,980.9 90.0,983.5 413.3,983.5 413.3,912" fill="#aaaaaa"/>
<polygon points="100.0,912.0 104.5,914.4 105.0,918.9 109.5,921.3 110.0,925.7 114.5,928.1 115.0,932.6 119.5,935.0 120.0,939.4 124.5,941.8 125.0,946.3 129.5,948.7 130.0,953.1 127.5,956.8 126.0,959.2 123.5,962.8 122.0,965.3 119.5,968.9 118.0,971.3 115.5,975.0 114.0,977.4 111.5,981.1 110.0,983.5 413.3,983.5 413.3,912" fill="#a0a0a0"/>
<polygon points="120.0,912.0 124.5,914.5 125.0,919.1 129.5,921.7 130.0,926.3 134.5,928.8 135.0,933.5 139.5,936.0 140.0,940.6 144.5,943.1 145.0,947.8 149.5,950.3 150.0,954.9 147.5,958.3 146.0,960.6 143.5,964.1 142.0,966.3 139.5,969.8 138.0,972.1 135.5,975.5 134.0,977.8 131.5,981.2 130.0,983.5 413.3,983.5 413.3,912" fill="#969696"/>
<polygon points="190.0,912.0 194.0,914.5 194.2,919.1 198.2,921.7 198.3,926.3 202.3,928.8 202.5,933.5 206.5,936.0 206.7,940.6 210.7,943.1 210.8,947.8 214.8,950.3 215.0,954.9 213.5,958.3 212.0,960.6 210.5,964.1 209.0,966.3 207.5,969.8 206.0,972.1 204.5,975.5 203.0,977.8 201.5,981.2 200.0,983.5 413.3,983.5 413.3,912" fill="#909090"/>
<polygon points="230.0,912.0 234.0,914.5 234.2,919.1 238.2,921.7 238.3,926.3 242.3,928.8 242.5,933.5 246.5,936.0 246.7,940.6 250.7,943.1 250.8,947.8 254.8,950.3 255.0,954.9 253.5,958.3 252.0,960.6 250.5,964.1 249.0,966.3 247.5,969.8 246.0,972.1 244.5,975.5 243.0,977.8 241.5,981.2 240.0,983.5 413.3,983.5 413.3,912" fill="#8a8a8a"/>
<polygon points="282.0,912.0 286.5,914.7 287.0,919.7 291.5,922.5 292.0,927.5 296.5,930.2 297.0,935.2 301.5,937.9 302.0,943.0 306.5,945.7 307.0,950.7 311.5,953.4 312.0,958.5 310.3,961.5 308.8,963.5 307.1,966.5 305.6,968.5 303.9,971.5 302.4,973.5 300.7,976.5 299.2,978.5 297.5,981.5 296.0,983.5 413.3,983.5 413.3,912" fill="#7c7c7c"/>
<polygon points="292.0,912.0 296.4,914.7 296.8,919.7 301.2,922.5 301.6,927.5 305.9,930.2 306.4,935.2 310.7,937.9 311.1,943.0 315.5,945.7 315.9,950.7 320.3,953.4 320.7,958.5 319.2,961.5 317.7,963.5 316.3,966.5 314.8,968.5 313.3,971.5 311.8,973.5 310.3,976.5 308.8,978.5 307.4,981.5 305.9,983.5 413.3,983.5 413.3,912" fill="#6e6e6e"/>
<polygon points="302.0,912.0 306.2,914.7 306.6,919.7 310.8,922.5 311.1,927.5 315.4,930.2 315.7,935.2 320.0,937.9 320.3,943.0 324.5,945.7 324.9,950.7 329.1,953.4 329.4,958.5 328.2,961.5 326.7,963.5 325.4,966.5 323.9,968.5 322.7,971.5 321.2,973.5 320.0,976.5 318.5,978.5 317.2,981.5 315.7,983.5 413.3,983.5 413.3,912" fill="#606060"/>
<polygon points="312.0,912.0 316.1,914.7 316.4,919.7 320.5,922.5 320.7,927.5 324.8,930.2 325.1,935.2 329.2,937.9 329.4,943.0 333.5,945.7 333.8,950.7 337.9,953.4 338.1,958.5 337.1,961.5 335.6,963.5 334.6,966.5 333.1,968.5 332.1,971.5 330.6,973.5 329.6,976.5 328.1,978.5 327.1,981.5 325.6,983.5 413.3,983.5 413.3,912" fill="#525252"/>
<polygon points="322.0,912.0 326.0,914.7 326.1,919.7 330.1,922.5 330.3,927.5 334.3,930.2 334.4,935.2 338.4,937.9 338.6,943.0 342.6,945.7 342.7,950.7 346.7,953.4 346.9,958.5 346.1,961.5 344.6,963.5 343.8,966.5 342.3,968.5 341.5,971.5 340.0,973.5 339.2,976.5 337.7,978.5 336.9,981.5 335.4,983.5 413.3,983.5 413.3,912" fill="#444444"/>
<polygon points="332.0,912.0 335.9,914.7 335.9,919.7 339.8,922.5 339.9,927.5 343.7,930.2 343.8,935.2 347.6,937.9 347.7,943.0 351.6,945.7 351.6,950.7 355.5,953.4 355.6,958.5 355.0,961.5 353.5,963.5 353.0,966.5 351.5,968.5 350.9,971.5 349.4,973.5 348.8,976.5 347.3,978.5 346.8,981.5 345.3,983.5 413.3,983.5 413.3,912" fill="#363636"/>
<polygon points="342.0,912.0 345.7,914.7 345.7,919.7 349.4,922.5 349.4,927.5 353.2,930.2 353.1,935.2 356.9,937.9 356.9,943.0 360.6,945.7 360.6,950.7 364.3,953.4 364.3,958.5 364.0,961.5 362.5,963.5 362.1,966.5 360.6,968.5 360.3,971.5 358.8,973.5 358.5,976.5 357.0,978.5 356.6,981.5 355.1,983.5 413.3,983.5 413.3,912" fill="#282828"/>
<polygon points="352.0,912.0 355.6,914.7 355.5,919.7 359.1,922.5 359.0,927.5 362.6,930.2 362.5,935.2 366.1,937.9 366.0,943.0 369.6,945.7 369.5,950.7 373.1,953.4 373.0,958.5 372.9,961.5 371.4,963.5 371.3,966.5 369.8,968.5 369.7,971.5 368.2,973.5 368.1,976.5 366.6,978.5 366.5,981.5 365.0,983.5 413.3,983.5 413.3,912" fill="#1a1a1a"/>
</g>
<rect x="37.2" y="912" width="371.1" height="71.5" fill="none" stroke="#000" stroke-width="0.8"/>
<text x="-0.8" y="781.5" font-size="40.5" fill="#000" font-weight="bold" textLength="24.3" lengthAdjust="spacingAndGlyphs">d</text>
<text x="45" y="780" font-size="31.4" fill="#000" stroke="#fff" stroke-width="4.5" stroke-linejoin="miter" paint-order="stroke" textLength="19.5" lengthAdjust="spacingAndGlyphs">A</text>
<text x="376" y="780.2" font-size="31.5" fill="#fff" textLength="24" lengthAdjust="spacingAndGlyphs">A′</text>
<text x="396.3" y="813.8" font-size="30.5" fill="#fff" text-anchor="end" textLength="38" lengthAdjust="spacingAndGlyphs">0 s</text>
<text x="396.3" y="893.6" font-size="30.5" fill="#fff" text-anchor="end" textLength="53" lengthAdjust="spacingAndGlyphs">10 s</text>
<text x="396.3" y="967.2" font-size="30.5" fill="#fff" text-anchor="end" textLength="55" lengthAdjust="spacingAndGlyphs">20 s</text>
<line x1="38.6" y1="983.1" x2="38.6" y2="972.6" stroke="#000" stroke-width="2"/>
<line x1="90.5" y1="983.1" x2="90.5" y2="978.1" stroke="#000" stroke-width="2"/>
<line x1="143" y1="983.1" x2="143" y2="972.6" stroke="#000" stroke-width="2"/>
<line x1="195.8" y1="983.1" x2="195.8" y2="978.1" stroke="#000" stroke-width="2"/>
<line x1="248.4" y1="983.1" x2="248.4" y2="972.6" stroke="#000" stroke-width="2"/>
<line x1="301" y1="983.1" x2="301" y2="978.1" stroke="#fff" stroke-width="2"/>
<line x1="351.8" y1="983.1" x2="351.8" y2="972.6" stroke="#fff" stroke-width="2"/>
<rect x="38.3" y="983.1" width="368.8" height="214.89999999999998" fill="#fff"/>
<path d="M40.2,1014.0 C42.4,1014.3 47.9,1014.0 53.4,1016.0 C58.9,1018.0 66.4,1022.1 72.9,1025.7 C79.4,1029.3 86.6,1032.2 92.4,1037.4 C98.2,1042.6 102.8,1047.2 108.0,1056.9 C113.2,1066.7 118.4,1082.2 123.6,1095.9 C128.8,1109.6 134.0,1125.8 139.2,1138.8 C144.4,1151.8 149.6,1165.5 154.8,1173.9 C160.0,1182.4 165.2,1185.8 170.4,1189.5 C175.6,1193.2 180.8,1194.8 186.0,1196.0 C191.2,1197.2 195.1,1196.8 201.6,1197.0 C208.1,1197.2 221.1,1197.0 225.0,1197.0" fill="none" stroke="#fd0000" stroke-width="2.6" stroke-linejoin="round"/>
<path d="M40.2,1000.4 C41.8,999.4 46.0,994.8 49.5,994.5 C53.0,994.2 56.0,995.1 61.2,998.4 C66.4,1001.6 72.9,1008.5 80.7,1014.0 C88.5,1019.5 98.9,1026.6 108.0,1031.5 C117.1,1036.4 126.2,1039.8 135.3,1043.2 C144.4,1046.7 155.2,1050.6 162.6,1052.2 C170.0,1053.8 174.8,1051.9 180.0,1053.0 C185.2,1054.1 189.6,1055.7 193.8,1058.9 C198.1,1062.2 201.0,1064.4 205.5,1072.5 C210.0,1080.6 215.8,1095.9 221.0,1107.6 C226.2,1119.3 231.5,1133.0 236.7,1142.7 C241.9,1152.4 246.5,1159.2 252.3,1166.0 C258.2,1172.8 264.7,1178.9 271.8,1183.6 C278.9,1188.3 288.7,1192.0 295.2,1194.2 C301.7,1196.4 303.7,1196.5 310.8,1197.0 C317.9,1197.5 333.5,1197.0 338.0,1197.0" fill="none" stroke="#fd0000" stroke-width="2.6" stroke-linejoin="round"/>
<path d="M40.2,990.6 C41.4,990.3 44.6,988.4 47.5,988.7 C50.4,989.0 53.1,989.7 57.3,992.6 C61.5,995.5 66.4,1001.0 72.9,1006.2 C79.4,1011.4 87.8,1018.6 96.3,1023.8 C104.8,1029.0 113.8,1033.2 123.6,1037.4 C133.3,1041.6 144.4,1045.5 154.8,1049.1 C165.2,1052.7 176.2,1056.0 186.0,1058.9 C195.8,1061.8 204.2,1064.1 213.3,1066.7 C222.4,1069.3 232.2,1073.0 240.6,1074.5 C249.0,1076.0 257.5,1074.8 264.0,1075.6 C270.5,1076.4 274.4,1076.8 279.6,1079.5 C284.8,1082.2 290.0,1086.0 295.2,1092.0 C300.4,1098.0 305.6,1107.0 310.8,1115.4 C316.0,1123.9 321.2,1134.3 326.4,1142.7 C331.6,1151.1 336.1,1159.2 342.0,1166.0 C347.9,1172.8 355.0,1179.2 361.5,1183.6 C368.0,1188.0 375.1,1190.4 381.0,1192.6 C386.9,1194.8 392.6,1196.3 396.6,1197.0 C400.6,1197.7 403.6,1197.0 405.0,1197.0" fill="none" stroke="#fd0000" stroke-width="2.6" stroke-linejoin="round"/>
<rect x="38.3" y="983.1" width="368.8" height="214.89999999999998" fill="none" stroke="#000" stroke-width="2.9"/>
<line x1="38.6" y1="1198" x2="38.6" y2="1206.5" stroke="#000" stroke-width="2"/>
<line x1="75.4" y1="1198" x2="75.4" y2="1202.5" stroke="#000" stroke-width="2"/>
<line x1="112.2" y1="1198" x2="112.2" y2="1206.5" stroke="#000" stroke-width="2"/>
<line x1="148.9" y1="1198" x2="148.9" y2="1202.5" stroke="#000" stroke-width="2"/>
<line x1="185.7" y1="1198" x2="185.7" y2="1206.5" stroke="#000" stroke-width="2"/>
<line x1="222.5" y1="1198" x2="222.5" y2="1202.5" stroke="#000" stroke-width="2"/>
<line x1="259.3" y1="1198" x2="259.3" y2="1206.5" stroke="#000" stroke-width="2"/>
<line x1="296.1" y1="1198" x2="296.1" y2="1202.5" stroke="#000" stroke-width="2"/>
<line x1="332.8" y1="1198" x2="332.8" y2="1206.5" stroke="#000" stroke-width="2"/>
<line x1="369.6" y1="1198" x2="369.6" y2="1202.5" stroke="#000" stroke-width="2"/>
<text x="38.4" y="1233.8" font-size="25" fill="#000" text-anchor="middle" textLength="11.5" lengthAdjust="spacingAndGlyphs">0</text>
<text x="111.7" y="1233.8" font-size="25" fill="#000" text-anchor="middle" textLength="28.5" lengthAdjust="spacingAndGlyphs">20</text>
<text x="332.3" y="1233.8" font-size="25" fill="#000" text-anchor="middle" textLength="28.5" lengthAdjust="spacingAndGlyphs">80</text>
<text x="178.5" y="1234.8" font-size="29" fill="#000" textLength="87" lengthAdjust="spacingAndGlyphs">x [µm]</text>
<text x="23.5" y="1089.55" font-size="31.5" fill="#000" text-anchor="middle" textLength="196" lengthAdjust="spacingAndGlyphs" transform="rotate(-90 23.5 1089.55)">intensity [a.u.]</text>
<text x="291.5" y="1030.6" font-size="38" font-weight="bold" fill="#fd0000" textLength="96" lengthAdjust="spacingAndGlyphs">RhO<tspan font-size="28" dy="7.6">x</tspan></text>
<text x="142" y="1136.2" font-size="29" fill="#000" textLength="37" lengthAdjust="spacingAndGlyphs">0 s</text>
<text x="238.5" y="1136.2" font-size="29" fill="#000" textLength="51.5" lengthAdjust="spacingAndGlyphs">10 s</text>
<text x="332" y="1136.2" font-size="29" fill="#000" textLength="53.8" lengthAdjust="spacingAndGlyphs">20 s</text>
<defs><filter id="jag" x="-5%" y="-5%" width="110%" height="110%"><feTurbulence type="fractalNoise" baseFrequency="0.3" numOctaves="1" seed="3" result="t"/><feDisplacementMap in="SourceGraphic" in2="t" scale="5" xChannelSelector="R" yChannelSelector="G"/></filter></defs>
<clipPath id="mapclip0"><circle cx="686.5" cy="270" r="250"/></clipPath>
<g clip-path="url(#mapclip0)"><g transform="translate(0,0)" filter="url(#jag)">
<circle cx="686.5" cy="270" r="251" fill="#603300"/>
<polygon points="488.5,119.0 498.1,125.5 508.0,129.4 514.5,137.2 517.1,147.6 528.8,155.4 532.7,146.3 539.2,142.4 544.4,139.3 546.5,152.8 552.2,147.6 559.5,139.3 550.1,135.1 554.8,124.2 560.0,115.1 567.8,106.0 576.9,93.0 585.2,83.9 575.6,82.1 565.2,93.0 557.4,102.1 550.9,98.2 560.0,90.4 571.7,82.1 583.4,76.1 587.3,67.0 596.4,64.4 609.4,57.9 625.0,56.1 638.0,57.9 643.2,60.5 656.2,63.1 671.8,67.0 679.6,77.4 680.0,76.1 695.6,67.0 700.8,54.0 713.8,43.6 719.0,33.2 730.7,25.4 735,-5 420,-5 420,119" fill="#fdab14" stroke="#fdab14" stroke-width="0.6" stroke-linejoin="round"/>
<polygon points="510.6,112.5 521.0,100.8 530.1,108.6 542.3,119.0 536.6,124.2 530.1,125.5 518.4,121.6 511.9,117.7" fill="#b86000" stroke="#b86000" stroke-width="0.6" stroke-linejoin="round"/>
<polygon points="591.2,70.9 585.2,83.9 576.9,93.0 567.8,106.0 560.0,115.1 554.8,124.2 550.1,135.1 559.5,139.3 552.2,147.6 546.5,152.8 544.4,139.3 539.2,142.4 532.7,146.3 528.8,155.4 534.0,164.5 527.5,176.2 521.0,184.0 519.7,194.4 508.0,202.2 497.6,215.2 490.3,220.4 492.4,236.0 491.1,249.0 495.0,251.6 528.8,256.8 531.4,264.6 528.8,265.0 547.0,266.3 567.8,275.4 567.4,278.8 570.0,273.6 590.8,255.4 598.6,247.6 616.8,245.0 637.6,221.6 646.7,220.3 655.8,221.6 635.0,219.0 627.2,216.4 625.0,220.4 630.2,106.0 627.6,93.0 631.5,80.0 622.4,70.9 609.4,74.8 599.0,74.8" fill="#603300" stroke="#603300" stroke-width="0.6" stroke-linejoin="round"/>
<polygon points="488.5,119.0 498.1,125.5 508.0,129.4 514.5,137.2 517.1,147.6 528.8,155.4 534.0,164.5 527.5,176.2 521.0,184.0 519.7,194.4 508.0,202.2 497.6,215.2 490.3,220.4 485.9,206.1 479.4,197.0 471.6,185.3 465.1,177.5 460.7,165.3 450.8,160.6 476.8,113.8" fill="#9a5000" stroke="#9a5000" stroke-width="0.6" stroke-linejoin="round"/>
<polygon points="460.7,165.3 465.1,177.5 471.6,185.3 479.4,197.0 485.9,206.1 490.3,220.4 492.4,236.0 491.1,254.2 491.1,265.0 493.7,278.0 489.8,291.0 491.1,306.6 482.0,305.3 463.8,301.4 449.5,300.1 440.4,297.5 419.6,296.2 419.6,213.0 445.6,160.6" fill="#2a1600" stroke="#2a1600" stroke-width="0.6" stroke-linejoin="round"/>
<polygon points="452.1,185.3 462.5,197.0 465.1,207.4 459.9,213.9 458.6,221.7 444.3,212.6 440.4,197.0" fill="#ff9a0a" stroke="#ff9a0a" stroke-width="0.6" stroke-linejoin="round"/>
<polygon points="630.2,106.0 638.0,129.4 648.4,145.0 657.5,160.6 656.2,171.0 648.4,181.4 635.4,191.8 630.2,204.8 625.0,220.4 622.4,223.0 606.8,223.0 596.4,220.4 612.0,210.0 617.2,199.6 601.6,197.0 586.0,197.0 570.4,191.8 565.2,197.0 560.0,181.4 567.8,173.6 578.2,160.6 591.2,145.0 599.0,132.0 612.0,121.6 622.4,111.2" fill="#bd6200" stroke="#bd6200" stroke-width="0.6" stroke-linejoin="round"/>
<polygon points="591.2,70.9 609.4,57.9 625.0,56.1 638.0,57.9 643.2,60.5 641.9,74.8 653.6,77.4 645.8,93.0 635.4,100.8 630.2,106.0 627.6,93.0 631.5,80.0 622.4,70.9 609.4,74.8 599.0,74.8" fill="#050200" stroke="#050200" stroke-width="0.6" stroke-linejoin="round"/>
<polygon points="630.2,106.0 635.4,100.8 645.8,93.0 653.6,77.4 656.2,81.3 658.8,93.0 664.0,103.4 671.8,113.8 679.6,126.8 684.8,139.8 690.0,150.2 692.2,156.6 693.5,180.0 697.4,206.0 688.3,221.6 681.8,216.4 668.8,221.6 661.0,219.0 655.8,221.6 635.0,219.0 627.2,216.4 631.1,206.0 635.0,195.6 632.4,190.4 648.4,181.4 656.2,171.0 657.5,160.6 648.4,145.0 638.0,129.4" fill="#2a1600" stroke="#2a1600" stroke-width="0.6" stroke-linejoin="round"/>
<polygon points="632.4,196.9 635.0,195.6 648.0,203.4 653.2,211.2 661.0,219.0 655.8,221.6 642.8,221.6 627.2,219.0 631.1,206.0" fill="#3a1e00" stroke="#3a1e00" stroke-width="0.6" stroke-linejoin="round"/>
<polygon points="570.0,273.6 590.8,255.4 598.6,247.6 616.8,245.0 637.6,221.6 646.7,220.3 661.0,224.2 642.8,243.7 666.2,269.7 674.0,263.2 681.8,265.8 697.4,291.8 700.0,297.0 687.0,310.0 674.0,325.6 675.3,336.0 655.8,354.2 642.8,362.0 632.4,375.0 628.5,380.2 619.4,369.8 609.0,362.0 596.0,346.4 583.0,330.8 577.8,320.4 575.2,307.4 583.0,302.2 572.6,286.6 567.4,278.8" fill="#ff9a0a" stroke="#ff9a0a" stroke-width="0.6" stroke-linejoin="round"/>
<polygon points="642.8,243.7 661.0,224.2 681.8,216.4 688.3,221.6 689.6,239.8 690.9,263.2 681.8,265.8 674.0,263.2 666.2,269.7" fill="#e67a00" stroke="#e67a00" stroke-width="0.6" stroke-linejoin="round"/>
<polygon points="688.3,221.6 697.4,206.0 713.0,190.4 726.0,180.0 739.0,167.0 750.7,165.7 758.5,177.4 772.8,167.0 791.0,154.0 784.0,160.6 794.4,155.4 807.4,143.7 815.2,147.6 823.0,163.2 815.2,176.2 812.6,194.4 799.6,210.0 794.4,220.4 776.2,225.6 765.8,236.0 755.4,246.4 752.0,252.8 740.3,263.2 739.0,276.2 728.6,282.7 720.8,289.2 713.0,281.4 702.6,271.0 690.9,263.2 689.6,239.8" fill="#ff9a0a" stroke="#ff9a0a" stroke-width="0.6" stroke-linejoin="round"/>
<polygon points="668.8,269.7 674.0,263.2 681.8,265.8 687.0,271.0 694.8,281.4 705.2,291.8 716.9,297.0 713.0,300.9 702.6,297.0 692.2,289.2 681.8,278.8 674.0,276.2" fill="#7a4000" stroke="#7a4000" stroke-width="0.6" stroke-linejoin="round"/>
<polygon points="690.9,263.2 702.6,271.0 713.0,281.4 720.8,289.2 716.9,297.0 705.2,291.8 694.8,281.4 687.0,271.0" fill="#b85e00" stroke="#b85e00" stroke-width="0.6" stroke-linejoin="round"/>
<polygon points="700.0,297.0 716.9,297.0 728.6,282.7 739.0,276.2 744.2,282.7 742.9,297.0 745.5,323.0 752.0,328.2 739.0,341.2 726.0,346.4 713.0,356.8 702.6,367.2 692.2,375.0 681.8,382.8 674.0,390.6 668.8,401.0 635.0,401.0 629.8,382.8 628.5,380.2 632.4,375.0 642.8,362.0 655.8,354.2 675.3,336.0 674.0,325.6 687.0,310.0" fill="#5a3000" stroke="#5a3000" stroke-width="0.6" stroke-linejoin="round"/>
<polygon points="715.6,336.0 726.0,334.7 744.2,336.0 749.4,333.4 744.2,342.5 733.8,343.8 723.4,341.2 715.6,339.9" fill="#3a1e00" stroke="#3a1e00" stroke-width="0.6" stroke-linejoin="round"/>
<polygon points="628.5,372.4 642.8,362.0 655.8,354.2 658.4,356.8 645.4,367.2 635.0,375.0 631.1,378.9" fill="#1a0c00" stroke="#1a0c00" stroke-width="0.6" stroke-linejoin="round"/>
<polygon points="740.3,263.2 752.0,252.8 755.4,246.4 765.8,236.0 774.9,230.8 776.2,241.2 774.9,275.0 773.6,265.0 771.0,280.6 776.2,291.0 780.1,297.5 768.4,306.6 760.6,317.0 752.8,330.0 747.6,324.8 757.2,320.4 752.0,328.2 745.5,323.0 742.9,297.0 744.2,282.7 739.0,276.2" fill="#8a4800" stroke="#8a4800" stroke-width="0.6" stroke-linejoin="round"/>
<polygon points="579.5,304.0 586.0,311.8 596.4,322.2 606.8,335.2 617.2,348.2 623.7,357.3 622.4,363.8 612.0,356.0 601.6,343.0 591.2,332.6 583.4,320.9 575.6,313.1" fill="#c86800" stroke="#c86800" stroke-width="0.6" stroke-linejoin="round"/>
<polygon points="567.8,280.6 575.6,291.0 586.0,301.4 596.4,298.8 601.6,306.6 599.0,313.1 609.4,319.6 617.2,326.1 619.8,330.0 612.0,327.4 601.6,319.6 593.8,314.4 596.4,306.6 588.6,304.0 578.2,298.8 570.4,288.4" fill="#4a2600" stroke="#4a2600" stroke-width="0.6" stroke-linejoin="round"/>
<polygon points="680.0,76.1 695.6,67.0 700.8,54.0 713.8,43.6 719.0,33.2 730.7,25.4 758.0,22.8 789.2,30.6 815.2,46.2 807.4,50.1 778.8,41.0 750.2,46.2 758.0,59.2 768.4,72.2 773.6,87.8 776.2,100.8 784.0,113.8 791.8,121.6 794.4,132.0 802.2,142.4 807.4,143.7 794.4,155.4 784.0,160.6 768.4,176.2 758.0,181.4 750.2,168.4 742.4,165.8 737.2,173.6 721.6,186.6 706.0,199.6 695.6,207.4 693.0,191.8 690.4,171.0 691.7,150.2 685.2,137.2 680.0,124.2 684.8,139.8 679.6,126.8 671.8,113.8 664.0,103.4 658.8,93.0 656.2,81.3 653.6,77.4 671.8,67.0 679.6,77.4" fill="#7a4000" stroke="#7a4000" stroke-width="0.6" stroke-linejoin="round"/>
<polygon points="750.2,46.2 778.8,41.0 807.4,50.1 825.6,67.0 841.2,87.8 856.8,113.8 862.0,137.2 872.4,160.6 877.6,171.0 888.0,191.8 898.4,212.6 908.8,236.0 919.2,256.8 927.0,275.0 930.9,272.8 940.0,280.6 960.8,343.0 960.8,447.0 897.1,405.4 901.0,384.6 907.5,369.0 906.2,350.8 911.4,332.6 906.2,327.4 901.0,330.0 899.7,340.4 893.2,350.8 888.0,369.0 885.4,374.2 877.6,363.8 875.0,350.8 862.0,356.0 856.8,348.2 846.4,340.4 836.0,330.0 825.6,319.6 815.2,311.8 802.2,302.7 791.8,298.8 780.1,297.5 776.2,291.0 771.0,280.6 773.6,265.0 774.9,275.0 776.2,241.2 774.9,230.8 776.2,225.6 794.4,220.4 799.6,210.0 812.6,194.4 815.2,176.2 823.0,163.2 815.2,147.6 807.4,143.7 802.2,142.4 794.4,132.0 791.8,121.6 784.0,113.8 776.2,100.8 773.6,87.8 768.4,72.2 758.0,59.2" fill="#5a3000" stroke="#5a3000" stroke-width="0.6" stroke-linejoin="round"/>
<polygon points="807.4,50.1 811.3,61.8 820.4,74.8 825.6,87.8 836.0,100.8 849.0,119.0 859.4,134.6 863.3,142.4 872.4,160.6 877.6,171.0 882.8,163.2 895.8,155.4 908.8,150.2 914.0,139.8 888.0,113.8 862.0,87.8 836.0,64.4 815.2,46.2" fill="#4a2800" stroke="#4a2800" stroke-width="0.6" stroke-linejoin="round"/>
<polygon points="859.4,139.8 869.8,129.4 885.4,128.1 888.0,134.6 880.2,145.0 873.7,154.1 864.6,150.2" fill="#281400" stroke="#281400" stroke-width="0.6" stroke-linejoin="round"/>
<polygon points="877.6,171.0 882.8,163.2 895.8,155.4 908.8,150.2 940.0,171.0 966.0,275.0 966.0,265.0 940.0,280.6 930.9,272.8 927.0,275.0 919.2,256.8 908.8,236.0 898.4,212.6 888.0,191.8" fill="#7a4000" stroke="#7a4000" stroke-width="0.6" stroke-linejoin="round"/>
<polygon points="682.6,76.1 693.0,68.3 700.8,61.8 702.1,74.8 698.2,87.8 687.8,82.6" fill="#a05400" stroke="#a05400" stroke-width="0.6" stroke-linejoin="round"/>
<polygon points="738.5,54.0 745.0,48.8 750.2,52.7 752.8,61.8 745.0,67.0 741.1,67.0" fill="#e67a00" stroke="#e67a00" stroke-width="0.6" stroke-linejoin="round"/>
<polygon points="780.1,297.5 791.8,298.8 802.2,302.7 815.2,311.8 825.6,319.6 836.0,330.0 846.4,340.4 856.8,348.2 862.0,356.0 856.8,363.8 846.4,374.2 836.0,384.6 828.2,392.4 821.7,395.0 810.0,389.8 802.2,387.2 791.8,385.9 778.8,387.2 777.5,379.4 768.4,384.6 763.2,395.0 755.4,402.8 745.0,405.4 735.9,413.2 730.7,422.3 724.2,427.5 719.0,439.2 711.2,447.0 700.8,441.8 690.4,434.0 680.0,428.8 679.6,431.4 669.2,426.2 661.4,421.0 658.8,410.6 664.0,402.8 674.4,389.8 679.6,384.6 690.0,376.8 687.8,376.8 698.2,363.8 706.0,356.0 716.4,345.6 726.8,340.4 745.0,340.4 752.8,330.0 760.6,317.0 768.4,306.6" fill="#ff9a0a" stroke="#ff9a0a" stroke-width="0.6" stroke-linejoin="round"/>
<polygon points="497.6,256.8 515.8,260.7 530.1,259.4 531.4,264.6 521.0,275.0 500.2,275.0" fill="#6a3800" stroke="#6a3800" stroke-width="0.6" stroke-linejoin="round"/>
<polygon points="440.4,297.5 449.5,300.1 463.8,301.4 482.0,305.3 479.4,310.5 469.0,317.0 461.2,327.4 453.4,336.5 445.6,327.4 437.8,309.2" fill="#7a4200" stroke="#7a4200" stroke-width="0.6" stroke-linejoin="round"/>
<polygon points="453.4,336.5 461.2,327.4 469.0,317.0 479.4,310.5 491.1,306.6 497.6,304.0 502.8,298.8 505.4,311.8 513.2,319.6 515.8,332.6 521.0,343.0 528.8,353.4 536.6,361.2 541.8,382.0 544.4,389.8 539.2,397.6 528.8,400.2 518.4,410.6 508.0,423.6 497.6,426.2 489.8,431.4 461.2,395.0 443.0,343.0" fill="#693700" stroke="#693700" stroke-width="0.6" stroke-linejoin="round"/>
<polygon points="502.8,298.8 518.4,291.0 534.0,301.4 560.0,314.4 575.6,327.4 586.0,343.0 583.4,363.8 588.6,376.8 606.8,374.2 622.4,379.4 630.2,389.8 622.4,400.2 612.0,410.6 596.4,413.2 588.6,408.0 591.2,418.4 575.6,426.2 560.0,431.4 544.4,436.6 534.0,444.4 515.8,452.2 508.0,444.4 489.8,431.4 497.6,426.2 508.0,423.6 518.4,410.6 528.8,400.2 539.2,397.6 544.4,389.8 541.8,382.0 536.6,361.2 528.8,353.4 521.0,343.0 515.8,332.6 513.2,319.6 505.4,311.8" fill="#6f3b00" stroke="#6f3b00" stroke-width="0.6" stroke-linejoin="round"/>
<polygon points="519.7,270.2 528.8,265.0 547.0,266.3 567.8,275.4 571.7,288.4 574.3,296.2 579.5,304.0 575.6,313.1 583.4,320.9 596.4,326.1 592.5,332.6 583.4,330.0 575.6,322.2 565.2,314.4 554.8,306.6 541.8,298.8 528.8,291.0 519.7,283.2" fill="#b05c00" stroke="#b05c00" stroke-width="0.6" stroke-linejoin="round"/>
<polygon points="515.8,452.2 534.0,444.4 544.4,436.6 560.0,431.4 575.6,426.2 591.2,418.4 588.6,408.0 596.4,413.2 612.0,410.6 622.4,400.2 630.2,389.8 635.4,382.0 645.8,387.2 656.2,392.4 658.8,410.6 661.4,421.0 669.2,426.2 679.6,431.4 680.0,428.8 690.4,434.0 700.8,441.8 711.2,447.0 726.8,447.0 739.8,452.2 758.0,457.4 773.6,467.8 786.6,488.6 794.4,478.2 802.2,462.6 812.6,461.3 825.6,467.8 841.2,478.2 810.0,551.0 498.0,551.0" fill="#3a2000" stroke="#3a2000" stroke-width="0.6" stroke-linejoin="round"/>
<polygon points="536.6,436.6 552.2,431.4 570.4,427.5 586.0,423.6 606.8,423.6 626.3,428.8 612.0,432.7 596.4,436.6 586.0,447.0 570.4,452.2 549.6,449.6" fill="#1e1000" stroke="#1e1000" stroke-width="0.6" stroke-linejoin="round"/>
<polygon points="640.6,486.0 664.0,491.2 690.0,492.5 695.6,491.2 713.8,493.8 730.7,496.4 728.1,514.6 719.0,538.0 654.0,538.0 664.0,514.6 656.2,499.0" fill="#1e1000" stroke="#1e1000" stroke-width="0.6" stroke-linejoin="round"/>
<polygon points="586.0,376.8 606.8,374.2 622.4,379.4 630.2,389.8 622.4,400.2 612.0,410.6 596.4,413.2 588.6,408.0" fill="#754000" stroke="#754000" stroke-width="0.6" stroke-linejoin="round"/>
<polygon points="600.3,418.4 612.0,417.1 635.4,419.7 635.4,422.3 617.2,423.6 601.6,422.3" fill="#2a1600" stroke="#2a1600" stroke-width="0.6" stroke-linejoin="round"/>
<polygon points="862.0,356.0 875.0,350.8 877.6,363.8 885.4,374.2 888.0,369.0 893.2,350.8 899.7,340.4 901.0,330.0 906.2,327.4 911.4,332.6 906.2,350.8 907.5,369.0 901.0,384.6 897.1,405.4 880.2,428.8 873.7,418.4 862.0,408.0 851.6,402.8 838.6,397.6 836.0,384.6 846.4,374.2 856.8,363.8" fill="#140a00" stroke="#140a00" stroke-width="0.6" stroke-linejoin="round"/>
<polygon points="873.7,382.0 881.5,378.1 890.6,383.3 895.8,392.4 893.2,402.8 882.8,400.2 873.7,395.0" fill="#1e1000" stroke="#1e1000" stroke-width="0.6" stroke-linejoin="round"/>
<polygon points="893.2,350.8 899.7,340.4 901.0,330.0 906.2,327.4 911.4,332.6 906.2,350.8 907.5,369.0 901.0,384.6 897.1,400.2 890.6,383.3 888.0,369.0" fill="#1e1000" stroke="#1e1000" stroke-width="0.6" stroke-linejoin="round"/>
<polygon points="826.9,389.8 833.4,384.6 842.5,382.0 843.8,387.2 836.0,393.7 829.5,395.0" fill="#000" stroke="#000" stroke-width="0.6" stroke-linejoin="round"/>
<polygon points="821.7,395.0 829.5,395.0 838.6,397.6 851.6,402.8 862.0,408.0 873.7,418.4 880.2,428.8 862.0,462.6 841.2,478.2 825.6,467.8 812.6,461.3 802.2,462.6 798.3,447.0 795.7,426.2 802.2,418.4 812.6,414.5 815.2,405.4" fill="#c86800" stroke="#c86800" stroke-width="0.6" stroke-linejoin="round"/>
<polygon points="777.5,379.4 778.8,387.2 791.8,385.9 802.2,387.2 810.0,389.8 821.7,395.0 815.2,405.4 812.6,414.5 802.2,418.4 795.7,426.2 798.3,447.0 802.2,462.6 794.4,478.2 786.6,488.6 773.6,467.8 758.0,457.4 739.8,452.2 726.8,447.0 719.0,439.2 724.2,427.5 730.7,422.3 735.9,413.2 745.0,405.4 755.4,402.8 763.2,395.0 768.4,384.6" fill="#7a4000" stroke="#7a4000" stroke-width="0.6" stroke-linejoin="round"/>
<polygon points="742.4,436.6 758.0,426.2 778.8,423.6 786.6,431.4 784.0,447.0 794.4,457.4 799.6,465.2 794.4,470.4 778.8,462.6 763.2,457.4 750.2,447.0" fill="#9a5000" stroke="#9a5000" stroke-width="0.6" stroke-linejoin="round"/>
<polygon points="735.9,421.0 745.0,408.0 752.8,421.0 750.2,424.9 738.5,426.2" fill="#e67a00" stroke="#e67a00" stroke-width="0.6" stroke-linejoin="round"/>
<polygon points="729.4,421.0 735.9,410.6 745.0,404.1 747.6,406.7 738.5,415.8 733.3,423.6" fill="#000" stroke="#000" stroke-width="0.6" stroke-linejoin="round"/>
<polygon points="778.8,444.4 785.3,431.4 789.2,444.4 787.9,454.8 782.7,452.2" fill="#4a2600" stroke="#4a2600" stroke-width="0.6" stroke-linejoin="round"/>
<polygon points="732.0,496.4 735.9,486.0 745.0,478.2 748.9,480.8 745.0,491.2 741.1,506.8 738.5,514.6 729.4,514.6" fill="#241200" stroke="#241200" stroke-width="0.6" stroke-linejoin="round"/>
</g></g>
<clipPath id="mapclip1"><circle cx="686.5" cy="817.3" r="250"/></clipPath>
<g clip-path="url(#mapclip1)"><g transform="translate(0,547.3)" filter="url(#jag)">
<circle cx="686.5" cy="270" r="251" fill="#d87000"/>
<polygon points="488.5,119.0 498.1,125.5 508.0,129.4 514.5,137.2 517.1,147.6 528.8,155.4 532.7,146.3 539.2,142.4 544.4,139.3 546.5,152.8 552.2,147.6 559.5,139.3 550.1,135.1 554.8,124.2 560.0,115.1 567.8,106.0 576.9,93.0 585.2,83.9 575.6,82.1 565.2,93.0 557.4,102.1 550.9,98.2 560.0,90.4 571.7,82.1 583.4,76.1 587.3,67.0 596.4,64.4 609.4,57.9 625.0,56.1 638.0,57.9 643.2,60.5 656.2,63.1 671.8,67.0 679.6,77.4 680.0,76.1 695.6,67.0 700.8,54.0 713.8,43.6 719.0,33.2 730.7,25.4 735,-5 420,-5 420,119" fill="#ffa30e" stroke="#ffa30e" stroke-width="0.6" stroke-linejoin="round"/>
<polygon points="510.6,112.5 521.0,100.8 530.1,108.6 542.3,119.0 536.6,124.2 530.1,125.5 518.4,121.6 511.9,117.7" fill="#ff9208" stroke="#ff9208" stroke-width="0.6" stroke-linejoin="round"/>
<polygon points="591.2,70.9 585.2,83.9 576.9,93.0 567.8,106.0 560.0,115.1 554.8,124.2 550.1,135.1 559.5,139.3 552.2,147.6 546.5,152.8 544.4,139.3 539.2,142.4 532.7,146.3 528.8,155.4 534.0,164.5 527.5,176.2 521.0,184.0 519.7,194.4 508.0,202.2 497.6,215.2 490.3,220.4 492.4,236.0 491.1,249.0 495.0,251.6 528.8,256.8 531.4,264.6 528.8,265.0 547.0,266.3 567.8,275.4 567.4,278.8 570.0,273.6 590.8,255.4 598.6,247.6 616.8,245.0 637.6,221.6 646.7,220.3 655.8,221.6 635.0,219.0 627.2,216.4 625.0,220.4 630.2,106.0 627.6,93.0 631.5,80.0 622.4,70.9 609.4,74.8 599.0,74.8" fill="#b05c00" stroke="#b05c00" stroke-width="0.6" stroke-linejoin="round"/>
<polygon points="488.5,119.0 498.1,125.5 508.0,129.4 514.5,137.2 517.1,147.6 528.8,155.4 534.0,164.5 527.5,176.2 521.0,184.0 519.7,194.4 508.0,202.2 497.6,215.2 490.3,220.4 485.9,206.1 479.4,197.0 471.6,185.3 465.1,177.5 460.7,165.3 450.8,160.6 476.8,113.8" fill="#ffa30e" stroke="#ffa30e" stroke-width="0.6" stroke-linejoin="round"/>
<polygon points="460.7,165.3 465.1,177.5 471.6,185.3 479.4,197.0 485.9,206.1 490.3,220.4 492.4,236.0 491.1,254.2 491.1,265.0 493.7,278.0 489.8,291.0 491.1,306.6 482.0,305.3 463.8,301.4 449.5,300.1 440.4,297.5 419.6,296.2 419.6,213.0 445.6,160.6" fill="#e27600" stroke="#e27600" stroke-width="0.6" stroke-linejoin="round"/>
<polygon points="452.1,185.3 462.5,197.0 465.1,207.4 459.9,213.9 458.6,221.7 444.3,212.6 440.4,197.0" fill="#ffa30e" stroke="#ffa30e" stroke-width="0.6" stroke-linejoin="round"/>
<polygon points="454.7,171.0 461.2,168.4 463.8,181.4 461.2,191.8 456.0,184.0" fill="#b05c00" stroke="#b05c00" stroke-width="0.6" stroke-linejoin="round"/>
<polygon points="630.2,106.0 638.0,129.4 648.4,145.0 657.5,160.6 656.2,171.0 648.4,181.4 635.4,191.8 630.2,204.8 625.0,220.4 622.4,223.0 606.8,223.0 596.4,220.4 612.0,210.0 617.2,199.6 601.6,197.0 586.0,197.0 570.4,191.8 565.2,197.0 560.0,181.4 567.8,173.6 578.2,160.6 591.2,145.0 599.0,132.0 612.0,121.6 622.4,111.2" fill="#ff8c08" stroke="#ff8c08" stroke-width="0.6" stroke-linejoin="round"/>
<polygon points="591.2,70.9 609.4,57.9 625.0,56.1 638.0,57.9 643.2,60.5 641.9,74.8 653.6,77.4 645.8,93.0 635.4,100.8 630.2,106.0 627.6,93.0 631.5,80.0 622.4,70.9 609.4,74.8 599.0,74.8" fill="#d87000" stroke="#d87000" stroke-width="0.6" stroke-linejoin="round"/>
<polygon points="630.2,106.0 635.4,100.8 645.8,93.0 653.6,77.4 656.2,81.3 658.8,93.0 664.0,103.4 671.8,113.8 679.6,126.8 684.8,139.8 690.0,150.2 692.2,156.6 693.5,180.0 697.4,206.0 688.3,221.6 681.8,216.4 668.8,221.6 661.0,219.0 655.8,221.6 635.0,219.0 627.2,216.4 631.1,206.0 635.0,195.6 632.4,190.4 648.4,181.4 656.2,171.0 657.5,160.6 648.4,145.0 638.0,129.4" fill="#d87000" stroke="#d87000" stroke-width="0.6" stroke-linejoin="round"/>
<polygon points="643.2,60.5 656.2,63.1 671.8,67.0 679.6,77.4 671.8,82.6 664.0,80.0 656.2,81.3 651.0,74.8 645.8,77.4 641.9,63.1" fill="#a85400" stroke="#a85400" stroke-width="0.6" stroke-linejoin="round"/>
<polygon points="641.9,73.5 653.6,77.4 651.0,90.4 645.8,93.0 635.4,100.8 630.2,106.0 627.6,98.2 635.4,87.8" fill="#5a3000" stroke="#5a3000" stroke-width="0.6" stroke-linejoin="round"/>
<polygon points="651.0,90.4 656.2,81.3 658.8,93.0 656.2,103.4 653.6,119.0 643.2,129.4 638.0,129.4 630.2,106.0 635.4,100.8 645.8,93.0" fill="#a85400" stroke="#a85400" stroke-width="0.6" stroke-linejoin="round"/>
<polygon points="591.2,70.9 599.0,65.7 609.4,67.0 609.4,74.8 599.0,74.8" fill="#f08000" stroke="#f08000" stroke-width="0.6" stroke-linejoin="round"/>
<polygon points="654.5,156.6 661.0,154.0 676.6,155.3 692.2,154.0 693.5,167.0 697.4,180.0 694.8,193.0 696.1,206.0 688.3,213.8 679.2,217.7 668.8,221.6 661.0,219.0 653.2,211.2 648.0,203.4 635.0,195.6 633.7,190.4 640.2,187.8 645.4,180.0 653.2,169.6 657.1,161.8" fill="#1e0e00" stroke="#1e0e00" stroke-width="0.6" stroke-linejoin="round"/>
<polygon points="632.4,196.9 635.0,195.6 648.0,203.4 653.2,211.2 661.0,219.0 655.8,221.6 642.8,221.6 627.2,219.0 631.1,206.0" fill="#8a4800" stroke="#8a4800" stroke-width="0.6" stroke-linejoin="round"/>
<polygon points="570.0,273.6 590.8,255.4 598.6,247.6 616.8,245.0 637.6,221.6 646.7,220.3 661.0,224.2 642.8,243.7 666.2,269.7 674.0,263.2 681.8,265.8 697.4,291.8 700.0,297.0 687.0,310.0 674.0,325.6 675.3,336.0 655.8,354.2 642.8,362.0 632.4,375.0 628.5,380.2 619.4,369.8 609.0,362.0 596.0,346.4 583.0,330.8 577.8,320.4 575.2,307.4 583.0,302.2 572.6,286.6 567.4,278.8" fill="#fdb416" stroke="#fdb416" stroke-width="0.6" stroke-linejoin="round"/>
<polygon points="642.8,243.7 661.0,224.2 681.8,216.4 688.3,221.6 689.6,239.8 690.9,263.2 681.8,265.8 674.0,263.2 666.2,269.7" fill="#fcb014" stroke="#fcb014" stroke-width="0.6" stroke-linejoin="round"/>
<polygon points="688.3,221.6 697.4,206.0 713.0,190.4 726.0,180.0 739.0,167.0 750.7,165.7 758.5,177.4 772.8,167.0 791.0,154.0 784.0,160.6 794.4,155.4 807.4,143.7 815.2,147.6 823.0,163.2 815.2,176.2 812.6,194.4 799.6,210.0 794.4,220.4 776.2,225.6 765.8,236.0 755.4,246.4 752.0,252.8 740.3,263.2 739.0,276.2 728.6,282.7 720.8,289.2 713.0,281.4 702.6,271.0 690.9,263.2 689.6,239.8" fill="#fbd428" stroke="#fbd428" stroke-width="0.6" stroke-linejoin="round"/>
<polygon points="668.8,269.7 674.0,263.2 681.8,265.8 687.0,271.0 694.8,281.4 705.2,291.8 716.9,297.0 713.0,300.9 702.6,297.0 692.2,289.2 681.8,278.8 674.0,276.2" fill="#ffa30e" stroke="#ffa30e" stroke-width="0.6" stroke-linejoin="round"/>
<polygon points="690.9,263.2 702.6,271.0 713.0,281.4 720.8,289.2 716.9,297.0 705.2,291.8 694.8,281.4 687.0,271.0" fill="#ffa30e" stroke="#ffa30e" stroke-width="0.6" stroke-linejoin="round"/>
<polygon points="700.0,297.0 716.9,297.0 728.6,282.7 739.0,276.2 744.2,282.7 742.9,297.0 745.5,323.0 752.0,328.2 739.0,341.2 726.0,346.4 713.0,356.8 702.6,367.2 692.2,375.0 681.8,382.8 674.0,390.6 668.8,401.0 635.0,401.0 629.8,382.8 628.5,380.2 632.4,375.0 642.8,362.0 655.8,354.2 675.3,336.0 674.0,325.6 687.0,310.0" fill="#8a4800" stroke="#8a4800" stroke-width="0.6" stroke-linejoin="round"/>
<polygon points="715.6,336.0 726.0,334.7 744.2,336.0 749.4,333.4 744.2,342.5 733.8,343.8 723.4,341.2 715.6,339.9" fill="#7a4000" stroke="#7a4000" stroke-width="0.6" stroke-linejoin="round"/>
<polygon points="628.5,372.4 642.8,362.0 655.8,354.2 658.4,356.8 645.4,367.2 635.0,375.0 631.1,378.9" fill="#8a4800" stroke="#8a4800" stroke-width="0.6" stroke-linejoin="round"/>
<polygon points="740.3,263.2 752.0,252.8 755.4,246.4 765.8,236.0 774.9,230.8 776.2,241.2 774.9,275.0 773.6,265.0 771.0,280.6 776.2,291.0 780.1,297.5 768.4,306.6 760.6,317.0 752.8,330.0 747.6,324.8 757.2,320.4 752.0,328.2 745.5,323.0 742.9,297.0 744.2,282.7 739.0,276.2" fill="#d87000" stroke="#d87000" stroke-width="0.6" stroke-linejoin="round"/>
<polygon points="579.5,304.0 586.0,311.8 596.4,322.2 606.8,335.2 617.2,348.2 623.7,357.3 622.4,363.8 612.0,356.0 601.6,343.0 591.2,332.6 583.4,320.9 575.6,313.1" fill="#ffa30e" stroke="#ffa30e" stroke-width="0.6" stroke-linejoin="round"/>
<polygon points="567.8,280.6 575.6,291.0 586.0,301.4 596.4,298.8 601.6,306.6 599.0,313.1 609.4,319.6 617.2,326.1 619.8,330.0 612.0,327.4 601.6,319.6 593.8,314.4 596.4,306.6 588.6,304.0 578.2,298.8 570.4,288.4" fill="#ff9a0a" stroke="#ff9a0a" stroke-width="0.6" stroke-linejoin="round"/>
<polygon points="583.4,320.9 591.2,332.6 601.6,343.0 612.0,356.0 622.4,363.8 621.1,366.9 610.7,359.1 600.3,346.1 589.9,335.7 582.1,324.0" fill="#ff9a0a" stroke="#ff9a0a" stroke-width="0.6" stroke-linejoin="round"/>
<polygon points="680.0,76.1 695.6,67.0 700.8,54.0 713.8,43.6 719.0,33.2 730.7,25.4 758.0,22.8 789.2,30.6 815.2,46.2 807.4,50.1 778.8,41.0 750.2,46.2 758.0,59.2 768.4,72.2 773.6,87.8 776.2,100.8 784.0,113.8 791.8,121.6 794.4,132.0 802.2,142.4 807.4,143.7 794.4,155.4 784.0,160.6 768.4,176.2 758.0,181.4 750.2,168.4 742.4,165.8 737.2,173.6 721.6,186.6 706.0,199.6 695.6,207.4 693.0,191.8 690.4,171.0 691.7,150.2 685.2,137.2 680.0,124.2 684.8,139.8 679.6,126.8 671.8,113.8 664.0,103.4 658.8,93.0 656.2,81.3 653.6,77.4 671.8,67.0 679.6,77.4" fill="#de7400" stroke="#de7400" stroke-width="0.6" stroke-linejoin="round"/>
<polygon points="750.2,46.2 778.8,41.0 807.4,50.1 825.6,67.0 841.2,87.8 856.8,113.8 862.0,137.2 872.4,160.6 877.6,171.0 888.0,191.8 898.4,212.6 908.8,236.0 919.2,256.8 927.0,275.0 930.9,272.8 940.0,280.6 960.8,343.0 960.8,447.0 897.1,405.4 901.0,384.6 907.5,369.0 906.2,350.8 911.4,332.6 906.2,327.4 901.0,330.0 899.7,340.4 893.2,350.8 888.0,369.0 885.4,374.2 877.6,363.8 875.0,350.8 862.0,356.0 856.8,348.2 846.4,340.4 836.0,330.0 825.6,319.6 815.2,311.8 802.2,302.7 791.8,298.8 780.1,297.5 776.2,291.0 771.0,280.6 773.6,265.0 774.9,275.0 776.2,241.2 774.9,230.8 776.2,225.6 794.4,220.4 799.6,210.0 812.6,194.4 815.2,176.2 823.0,163.2 815.2,147.6 807.4,143.7 802.2,142.4 794.4,132.0 791.8,121.6 784.0,113.8 776.2,100.8 773.6,87.8 768.4,72.2 758.0,59.2" fill="#cf6a00" stroke="#cf6a00" stroke-width="0.6" stroke-linejoin="round"/>
<polygon points="807.4,50.1 811.3,61.8 820.4,74.8 825.6,87.8 836.0,100.8 849.0,119.0 859.4,134.6 863.3,142.4 872.4,160.6 877.6,171.0 882.8,163.2 895.8,155.4 908.8,150.2 914.0,139.8 888.0,113.8 862.0,87.8 836.0,64.4 815.2,46.2" fill="#d87000" stroke="#d87000" stroke-width="0.6" stroke-linejoin="round"/>
<polygon points="859.4,139.8 869.8,129.4 885.4,128.1 895.8,132.0 906.2,150.2 895.8,155.4 882.8,163.2 875.0,164.5 873.7,154.1 864.6,150.2" fill="#c06400" stroke="#c06400" stroke-width="0.6" stroke-linejoin="round"/>
<polygon points="859.4,139.8 869.8,129.4 885.4,128.1 888.0,134.6 880.2,145.0 873.7,154.1 864.6,150.2" fill="#c06400" stroke="#c06400" stroke-width="0.6" stroke-linejoin="round"/>
<polygon points="877.6,171.0 882.8,163.2 895.8,155.4 908.8,150.2 940.0,171.0 966.0,275.0 966.0,265.0 940.0,280.6 930.9,272.8 927.0,275.0 919.2,256.8 908.8,236.0 898.4,212.6 888.0,191.8" fill="#dc7200" stroke="#dc7200" stroke-width="0.6" stroke-linejoin="round"/>
<polygon points="682.6,76.1 693.0,68.3 700.8,61.8 702.1,74.8 698.2,87.8 687.8,82.6" fill="#ff9208" stroke="#ff9208" stroke-width="0.6" stroke-linejoin="round"/>
<polygon points="738.5,54.0 745.0,48.8 750.2,52.7 752.8,61.8 745.0,67.0 741.1,67.0" fill="#b85e00" stroke="#b85e00" stroke-width="0.6" stroke-linejoin="round"/>
<polygon points="699.5,61.8 702.1,54.0 713.8,48.8 715.1,59.2 706.0,67.0" fill="#f08000" stroke="#f08000" stroke-width="0.6" stroke-linejoin="round"/>
<polygon points="780.1,297.5 791.8,298.8 802.2,302.7 815.2,311.8 825.6,319.6 836.0,330.0 846.4,340.4 856.8,348.2 862.0,356.0 856.8,363.8 846.4,374.2 836.0,384.6 828.2,392.4 821.7,395.0 810.0,389.8 802.2,387.2 791.8,385.9 778.8,387.2 777.5,379.4 768.4,384.6 763.2,395.0 755.4,402.8 745.0,405.4 735.9,413.2 730.7,422.3 724.2,427.5 719.0,439.2 711.2,447.0 700.8,441.8 690.4,434.0 680.0,428.8 679.6,431.4 669.2,426.2 661.4,421.0 658.8,410.6 664.0,402.8 674.4,389.8 679.6,384.6 690.0,376.8 687.8,376.8 698.2,363.8 706.0,356.0 716.4,345.6 726.8,340.4 745.0,340.4 752.8,330.0 760.6,317.0 768.4,306.6" fill="#fdae14" stroke="#fdae14" stroke-width="0.6" stroke-linejoin="round"/>
<polygon points="493.7,250.3 508.0,252.9 528.8,255.5 530.1,259.4 515.8,260.7 497.6,255.5" fill="#ff9208" stroke="#ff9208" stroke-width="0.6" stroke-linejoin="round"/>
<polygon points="497.6,256.8 515.8,260.7 530.1,259.4 531.4,264.6 521.0,275.0 500.2,275.0" fill="#ff9208" stroke="#ff9208" stroke-width="0.6" stroke-linejoin="round"/>
<polygon points="440.4,297.5 449.5,300.1 463.8,301.4 482.0,305.3 479.4,310.5 469.0,317.0 461.2,327.4 453.4,336.5 445.6,327.4 437.8,309.2" fill="#e27600" stroke="#e27600" stroke-width="0.6" stroke-linejoin="round"/>
<polygon points="453.4,336.5 461.2,327.4 469.0,317.0 479.4,310.5 491.1,306.6 497.6,304.0 502.8,298.8 505.4,311.8 513.2,319.6 515.8,332.6 521.0,343.0 528.8,353.4 536.6,361.2 541.8,382.0 544.4,389.8 539.2,397.6 528.8,400.2 518.4,410.6 508.0,423.6 497.6,426.2 489.8,431.4 461.2,395.0 443.0,343.0" fill="#e27600" stroke="#e27600" stroke-width="0.6" stroke-linejoin="round"/>
<polygon points="502.8,298.8 518.4,291.0 534.0,301.4 560.0,314.4 575.6,327.4 586.0,343.0 583.4,363.8 588.6,376.8 606.8,374.2 622.4,379.4 630.2,389.8 622.4,400.2 612.0,410.6 596.4,413.2 588.6,408.0 591.2,418.4 575.6,426.2 560.0,431.4 544.4,436.6 534.0,444.4 515.8,452.2 508.0,444.4 489.8,431.4 497.6,426.2 508.0,423.6 518.4,410.6 528.8,400.2 539.2,397.6 544.4,389.8 541.8,382.0 536.6,361.2 528.8,353.4 521.0,343.0 515.8,332.6 513.2,319.6 505.4,311.8" fill="#d06a00" stroke="#d06a00" stroke-width="0.6" stroke-linejoin="round"/>
<polygon points="519.7,270.2 528.8,265.0 547.0,266.3 567.8,275.4 571.7,288.4 574.3,296.2 579.5,304.0 575.6,313.1 583.4,320.9 596.4,326.1 592.5,332.6 583.4,330.0 575.6,322.2 565.2,314.4 554.8,306.6 541.8,298.8 528.8,291.0 519.7,283.2" fill="#ff9208" stroke="#ff9208" stroke-width="0.6" stroke-linejoin="round"/>
<polygon points="505.4,270.2 518.4,272.8 519.7,283.2 515.8,293.6 508.0,288.4" fill="#ff9208" stroke="#ff9208" stroke-width="0.6" stroke-linejoin="round"/>
<polygon points="515.8,452.2 534.0,444.4 544.4,436.6 560.0,431.4 575.6,426.2 591.2,418.4 588.6,408.0 596.4,413.2 612.0,410.6 622.4,400.2 630.2,389.8 635.4,382.0 645.8,387.2 656.2,392.4 658.8,410.6 661.4,421.0 669.2,426.2 679.6,431.4 680.0,428.8 690.4,434.0 700.8,441.8 711.2,447.0 726.8,447.0 739.8,452.2 758.0,457.4 773.6,467.8 786.6,488.6 794.4,478.2 802.2,462.6 812.6,461.3 825.6,467.8 841.2,478.2 810.0,551.0 498.0,551.0" fill="#6a3800" stroke="#6a3800" stroke-width="0.6" stroke-linejoin="round"/>
<polygon points="513.2,444.4 534.0,439.2 552.2,431.4 570.4,427.5 586.0,423.6 591.2,418.4 596.4,413.2 612.0,410.6 622.4,400.2 630.2,389.8 645.8,392.4 635.4,400.2 625.0,410.6 622.4,421.0 626.3,428.8 612.0,432.7 596.4,436.6 586.0,447.0 578.2,460.0 570.4,452.2 549.6,449.6 534.0,454.8 526.2,460.0 508.0,452.2" fill="#b05c00" stroke="#b05c00" stroke-width="0.6" stroke-linejoin="round"/>
<polygon points="536.6,436.6 552.2,431.4 570.4,427.5 586.0,423.6 606.8,423.6 626.3,428.8 612.0,432.7 596.4,436.6 586.0,447.0 570.4,452.2 549.6,449.6" fill="#b05c00" stroke="#b05c00" stroke-width="0.6" stroke-linejoin="round"/>
<polygon points="640.6,486.0 664.0,491.2 690.0,492.5 695.6,491.2 713.8,493.8 730.7,496.4 728.1,514.6 719.0,538.0 654.0,538.0 664.0,514.6 656.2,499.0" fill="#b05c00" stroke="#b05c00" stroke-width="0.6" stroke-linejoin="round"/>
<polygon points="586.0,376.8 606.8,374.2 622.4,379.4 630.2,389.8 622.4,400.2 612.0,410.6 596.4,413.2 588.6,408.0" fill="#d06a00" stroke="#d06a00" stroke-width="0.6" stroke-linejoin="round"/>
<polygon points="583.4,343.0 588.6,353.4 601.6,366.4 606.8,374.2 588.6,376.8 583.4,363.8" fill="#b05c00" stroke="#b05c00" stroke-width="0.6" stroke-linejoin="round"/>
<polygon points="600.3,418.4 612.0,417.1 635.4,419.7 635.4,422.3 617.2,423.6 601.6,422.3" fill="#2a1400" stroke="#2a1400" stroke-width="0.6" stroke-linejoin="round"/>
<polygon points="862.0,356.0 875.0,350.8 877.6,363.8 885.4,374.2 888.0,369.0 893.2,350.8 899.7,340.4 901.0,330.0 906.2,327.4 911.4,332.6 906.2,350.8 907.5,369.0 901.0,384.6 897.1,405.4 880.2,428.8 873.7,418.4 862.0,408.0 851.6,402.8 838.6,397.6 836.0,384.6 846.4,374.2 856.8,363.8" fill="#b05c00" stroke="#b05c00" stroke-width="0.6" stroke-linejoin="round"/>
<polygon points="873.7,382.0 881.5,378.1 890.6,383.3 895.8,392.4 893.2,402.8 882.8,400.2 873.7,395.0" fill="#5a3000" stroke="#5a3000" stroke-width="0.6" stroke-linejoin="round"/>
<polygon points="893.2,350.8 899.7,340.4 901.0,330.0 906.2,327.4 911.4,332.6 906.2,350.8 907.5,369.0 901.0,384.6 897.1,400.2 890.6,383.3 888.0,369.0" fill="#e67a00" stroke="#e67a00" stroke-width="0.6" stroke-linejoin="round"/>
<polygon points="826.9,389.8 833.4,384.6 842.5,382.0 843.8,387.2 836.0,393.7 829.5,395.0" fill="#fbb818" stroke="#fbb818" stroke-width="0.6" stroke-linejoin="round"/>
<polygon points="821.7,395.0 829.5,395.0 838.6,397.6 851.6,402.8 862.0,408.0 873.7,418.4 880.2,428.8 862.0,462.6 841.2,478.2 825.6,467.8 812.6,461.3 802.2,462.6 798.3,447.0 795.7,426.2 802.2,418.4 812.6,414.5 815.2,405.4" fill="#ff9a0a" stroke="#ff9a0a" stroke-width="0.6" stroke-linejoin="round"/>
<polygon points="777.5,379.4 778.8,387.2 791.8,385.9 802.2,387.2 810.0,389.8 821.7,395.0 815.2,405.4 812.6,414.5 802.2,418.4 795.7,426.2 798.3,447.0 802.2,462.6 794.4,478.2 786.6,488.6 773.6,467.8 758.0,457.4 739.8,452.2 726.8,447.0 719.0,439.2 724.2,427.5 730.7,422.3 735.9,413.2 745.0,405.4 755.4,402.8 763.2,395.0 768.4,384.6" fill="#f08000" stroke="#f08000" stroke-width="0.6" stroke-linejoin="round"/>
<polygon points="742.4,436.6 758.0,426.2 778.8,423.6 786.6,431.4 784.0,447.0 794.4,457.4 799.6,465.2 794.4,470.4 778.8,462.6 763.2,457.4 750.2,447.0" fill="#c86800" stroke="#c86800" stroke-width="0.6" stroke-linejoin="round"/>
<polygon points="735.9,421.0 745.0,408.0 752.8,421.0 750.2,424.9 738.5,426.2" fill="#ffa30e" stroke="#ffa30e" stroke-width="0.6" stroke-linejoin="round"/>
<polygon points="729.4,421.0 735.9,410.6 745.0,404.1 747.6,406.7 738.5,415.8 733.3,423.6" fill="#ffa30e" stroke="#ffa30e" stroke-width="0.6" stroke-linejoin="round"/>
<polygon points="778.8,444.4 785.3,431.4 789.2,444.4 787.9,454.8 782.7,452.2" fill="#ffa30e" stroke="#ffa30e" stroke-width="0.6" stroke-linejoin="round"/>
<polygon points="784.0,431.4 791.8,421.0 797.0,447.0 794.4,457.4 787.9,454.8 789.2,444.4" fill="#f08000" stroke="#f08000" stroke-width="0.6" stroke-linejoin="round"/>
<polygon points="794.4,473.0 802.2,462.6 812.6,461.3 825.6,467.8 841.2,478.2 825.6,491.2 806.1,489.9 802.2,480.8 794.4,486.0" fill="#ff9a0a" stroke="#ff9a0a" stroke-width="0.6" stroke-linejoin="round"/>
<polygon points="694.3,444.4 711.2,447.0 713.8,452.2 706.0,462.6 699.5,462.6 693.0,454.8" fill="#f08000" stroke="#f08000" stroke-width="0.6" stroke-linejoin="round"/>
<polygon points="699.5,462.6 713.8,447.0 732.0,447.0 752.8,454.8 768.4,462.6 784.0,470.4 791.8,473.0 794.4,486.0 802.2,480.8 806.1,489.9 784.0,525.0 729.4,525.0 729.4,515.9 732.0,499.0 713.8,491.2 706.0,478.2" fill="#1e0e00" stroke="#1e0e00" stroke-width="0.6" stroke-linejoin="round"/>
<polygon points="732.0,496.4 735.9,486.0 745.0,478.2 748.9,480.8 745.0,491.2 741.1,506.8 738.5,514.6 729.4,514.6" fill="#000" stroke="#000" stroke-width="0.6" stroke-linejoin="round"/>
</g></g>
<clipPath id="mapclip2"><circle cx="686.5" cy="1365" r="250"/></clipPath>
<g clip-path="url(#mapclip2)"><g transform="translate(0,1095)" filter="url(#jag)">
<circle cx="686.5" cy="270" r="251" fill="#c06000"/>
<polygon points="488.5,119.0 498.1,125.5 508.0,129.4 514.5,137.2 517.1,147.6 528.8,155.4 532.7,146.3 539.2,142.4 544.4,139.3 546.5,152.8 552.2,147.6 559.5,139.3 550.1,135.1 554.8,124.2 560.0,115.1 567.8,106.0 576.9,93.0 585.2,83.9 575.6,82.1 565.2,93.0 557.4,102.1 550.9,98.2 560.0,90.4 571.7,82.1 583.4,76.1 587.3,67.0 596.4,64.4 609.4,57.9 625.0,56.1 638.0,57.9 643.2,60.5 656.2,63.1 671.8,67.0 679.6,77.4 680.0,76.1 695.6,67.0 700.8,54.0 713.8,43.6 719.0,33.2 730.7,25.4 735,-5 420,-5 420,119" fill="#0c0600" stroke="#0c0600" stroke-width="0.6" stroke-linejoin="round"/>
<polygon points="510.6,112.5 521.0,100.8 530.1,108.6 542.3,119.0 536.6,124.2 530.1,125.5 518.4,121.6 511.9,117.7" fill="#a85400" stroke="#a85400" stroke-width="0.6" stroke-linejoin="round"/>
<polygon points="591.2,70.9 585.2,83.9 576.9,93.0 567.8,106.0 560.0,115.1 554.8,124.2 550.1,135.1 559.5,139.3 552.2,147.6 546.5,152.8 544.4,139.3 539.2,142.4 532.7,146.3 528.8,155.4 534.0,164.5 527.5,176.2 521.0,184.0 519.7,194.4 508.0,202.2 497.6,215.2 490.3,220.4 492.4,236.0 491.1,249.0 495.0,251.6 528.8,256.8 531.4,264.6 528.8,265.0 547.0,266.3 567.8,275.4 567.4,278.8 570.0,273.6 590.8,255.4 598.6,247.6 616.8,245.0 637.6,221.6 646.7,220.3 655.8,221.6 635.0,219.0 627.2,216.4 625.0,220.4 630.2,106.0 627.6,93.0 631.5,80.0 622.4,70.9 609.4,74.8 599.0,74.8" fill="#c06000" stroke="#c06000" stroke-width="0.6" stroke-linejoin="round"/>
<polygon points="488.5,119.0 498.1,125.5 508.0,129.4 514.5,137.2 517.1,147.6 528.8,155.4 534.0,164.5 527.5,176.2 521.0,184.0 519.7,194.4 508.0,202.2 497.6,215.2 490.3,220.4 485.9,206.1 479.4,197.0 471.6,185.3 465.1,177.5 460.7,165.3 450.8,160.6 476.8,113.8" fill="#f58000" stroke="#f58000" stroke-width="0.6" stroke-linejoin="round"/>
<polygon points="460.7,165.3 465.1,177.5 471.6,185.3 479.4,197.0 485.9,206.1 490.3,220.4 492.4,236.0 491.1,254.2 491.1,265.0 493.7,278.0 489.8,291.0 491.1,306.6 482.0,305.3 463.8,301.4 449.5,300.1 440.4,297.5 419.6,296.2 419.6,213.0 445.6,160.6" fill="#fad030" stroke="#fad030" stroke-width="0.6" stroke-linejoin="round"/>
<polygon points="452.1,185.3 462.5,197.0 465.1,207.4 459.9,213.9 458.6,221.7 444.3,212.6 440.4,197.0" fill="#fad030" stroke="#fad030" stroke-width="0.6" stroke-linejoin="round"/>
<polygon points="630.2,106.0 638.0,129.4 648.4,145.0 657.5,160.6 656.2,171.0 648.4,181.4 635.4,191.8 630.2,204.8 625.0,220.4 622.4,223.0 606.8,223.0 596.4,220.4 612.0,210.0 617.2,199.6 601.6,197.0 586.0,197.0 570.4,191.8 565.2,197.0 560.0,181.4 567.8,173.6 578.2,160.6 591.2,145.0 599.0,132.0 612.0,121.6 622.4,111.2" fill="#8a4800" stroke="#8a4800" stroke-width="0.6" stroke-linejoin="round"/>
<polygon points="591.2,70.9 609.4,57.9 625.0,56.1 638.0,57.9 643.2,60.5 641.9,74.8 653.6,77.4 645.8,93.0 635.4,100.8 630.2,106.0 627.6,93.0 631.5,80.0 622.4,70.9 609.4,74.8 599.0,74.8" fill="#fbd030" stroke="#fbd030" stroke-width="0.6" stroke-linejoin="round"/>
<polygon points="630.2,106.0 635.4,100.8 645.8,93.0 653.6,77.4 656.2,81.3 658.8,93.0 664.0,103.4 671.8,113.8 679.6,126.8 684.8,139.8 690.0,150.2 692.2,156.6 693.5,180.0 697.4,206.0 688.3,221.6 681.8,216.4 668.8,221.6 661.0,219.0 655.8,221.6 635.0,219.0 627.2,216.4 631.1,206.0 635.0,195.6 632.4,190.4 648.4,181.4 656.2,171.0 657.5,160.6 648.4,145.0 638.0,129.4" fill="#c96600" stroke="#c96600" stroke-width="0.6" stroke-linejoin="round"/>
<polygon points="592.5,70.9 609.4,57.9 625.0,56.1 638.0,57.9 641.9,63.1 645.8,77.4 656.2,90.4 664.0,103.4 671.8,119.0 679.6,132.0 686.1,145.0 687.4,154.1 656.2,154.1 651.0,145.0 643.2,134.6 638.0,119.0 632.8,103.4 628.9,93.0 631.5,80.0 622.4,70.9 609.4,74.8 599.0,74.8" fill="#fbd030" stroke="#fbd030" stroke-width="0.6" stroke-linejoin="round"/>
<polygon points="645.8,77.4 656.2,90.4 664.0,103.4 671.8,119.0 679.6,132.0 686.1,145.0 687.4,154.1 674.4,154.1 664.0,129.4 653.6,108.6 647.1,93.0" fill="#fbc224" stroke="#fbc224" stroke-width="0.6" stroke-linejoin="round"/>
<polygon points="643.2,60.5 656.2,63.1 671.8,67.0 679.6,77.4 671.8,82.6 664.0,80.0 656.2,81.3 651.0,74.8 645.8,77.4 641.9,63.1" fill="#f58000" stroke="#f58000" stroke-width="0.6" stroke-linejoin="round"/>
<polygon points="654.5,156.6 661.0,154.0 676.6,155.3 692.2,154.0 693.5,167.0 697.4,180.0 694.8,193.0 696.1,206.0 688.3,213.8 679.2,217.7 668.8,221.6 661.0,219.0 653.2,211.2 648.0,203.4 635.0,195.6 633.7,190.4 640.2,187.8 645.4,180.0 653.2,169.6 657.1,161.8" fill="#000" stroke="#000" stroke-width="0.6" stroke-linejoin="round"/>
<polygon points="632.4,196.9 635.0,195.6 648.0,203.4 653.2,211.2 661.0,219.0 655.8,221.6 642.8,221.6 627.2,219.0 631.1,206.0" fill="#f58000" stroke="#f58000" stroke-width="0.6" stroke-linejoin="round"/>
<polygon points="570.0,273.6 590.8,255.4 598.6,247.6 616.8,245.0 637.6,221.6 646.7,220.3 661.0,224.2 642.8,243.7 666.2,269.7 674.0,263.2 681.8,265.8 697.4,291.8 700.0,297.0 687.0,310.0 674.0,325.6 675.3,336.0 655.8,354.2 642.8,362.0 632.4,375.0 628.5,380.2 619.4,369.8 609.0,362.0 596.0,346.4 583.0,330.8 577.8,320.4 575.2,307.4 583.0,302.2 572.6,286.6 567.4,278.8" fill="#321a00" stroke="#321a00" stroke-width="0.6" stroke-linejoin="round"/>
<polygon points="642.8,243.7 661.0,224.2 681.8,216.4 688.3,221.6 689.6,239.8 690.9,263.2 681.8,265.8 674.0,263.2 666.2,269.7" fill="#8e4a00" stroke="#8e4a00" stroke-width="0.6" stroke-linejoin="round"/>
<polygon points="688.3,221.6 697.4,206.0 713.0,190.4 726.0,180.0 739.0,167.0 750.7,165.7 758.5,177.4 772.8,167.0 791.0,154.0 784.0,160.6 794.4,155.4 807.4,143.7 815.2,147.6 823.0,163.2 815.2,176.2 812.6,194.4 799.6,210.0 794.4,220.4 776.2,225.6 765.8,236.0 755.4,246.4 752.0,252.8 740.3,263.2 739.0,276.2 728.6,282.7 720.8,289.2 713.0,281.4 702.6,271.0 690.9,263.2 689.6,239.8" fill="#8a4800" stroke="#8a4800" stroke-width="0.6" stroke-linejoin="round"/>
<polygon points="668.8,269.7 674.0,263.2 681.8,265.8 687.0,271.0 694.8,281.4 705.2,291.8 716.9,297.0 713.0,300.9 702.6,297.0 692.2,289.2 681.8,278.8 674.0,276.2" fill="#fba010" stroke="#fba010" stroke-width="0.6" stroke-linejoin="round"/>
<polygon points="690.9,263.2 702.6,271.0 713.0,281.4 720.8,289.2 716.9,297.0 705.2,291.8 694.8,281.4 687.0,271.0" fill="#8a4800" stroke="#8a4800" stroke-width="0.6" stroke-linejoin="round"/>
<polygon points="700.0,297.0 716.9,297.0 728.6,282.7 739.0,276.2 744.2,282.7 742.9,297.0 745.5,323.0 752.0,328.2 739.0,341.2 726.0,346.4 713.0,356.8 702.6,367.2 692.2,375.0 681.8,382.8 674.0,390.6 668.8,401.0 635.0,401.0 629.8,382.8 628.5,380.2 632.4,375.0 642.8,362.0 655.8,354.2 675.3,336.0 674.0,325.6 687.0,310.0" fill="#8a4800" stroke="#8a4800" stroke-width="0.6" stroke-linejoin="round"/>
<polygon points="715.6,336.0 726.0,334.7 744.2,336.0 749.4,333.4 744.2,342.5 733.8,343.8 723.4,341.2 715.6,339.9" fill="#f58000" stroke="#f58000" stroke-width="0.6" stroke-linejoin="round"/>
<polygon points="628.5,372.4 642.8,362.0 655.8,354.2 658.4,356.8 645.4,367.2 635.0,375.0 631.1,378.9" fill="#fbb818" stroke="#fbb818" stroke-width="0.6" stroke-linejoin="round"/>
<polygon points="740.3,263.2 752.0,252.8 755.4,246.4 765.8,236.0 774.9,230.8 776.2,241.2 774.9,275.0 773.6,265.0 771.0,280.6 776.2,291.0 780.1,297.5 768.4,306.6 760.6,317.0 752.8,330.0 747.6,324.8 757.2,320.4 752.0,328.2 745.5,323.0 742.9,297.0 744.2,282.7 739.0,276.2" fill="#8e4a00" stroke="#8e4a00" stroke-width="0.6" stroke-linejoin="round"/>
<polygon points="579.5,304.0 586.0,311.8 596.4,322.2 606.8,335.2 617.2,348.2 623.7,357.3 622.4,363.8 612.0,356.0 601.6,343.0 591.2,332.6 583.4,320.9 575.6,313.1" fill="#321a00" stroke="#321a00" stroke-width="0.6" stroke-linejoin="round"/>
<polygon points="567.8,280.6 575.6,291.0 586.0,301.4 596.4,298.8 601.6,306.6 599.0,313.1 609.4,319.6 617.2,326.1 619.8,330.0 612.0,327.4 601.6,319.6 593.8,314.4 596.4,306.6 588.6,304.0 578.2,298.8 570.4,288.4" fill="#fbb818" stroke="#fbb818" stroke-width="0.6" stroke-linejoin="round"/>
<polygon points="566.1,281.4 572.6,286.6 583.0,302.2 580.4,307.4 572.6,297.0 567.4,289.2" fill="#fbb818" stroke="#fbb818" stroke-width="0.6" stroke-linejoin="round"/>
<polygon points="601.2,359.4 609.0,362.0 619.4,369.8 628.5,380.2 623.3,381.5 611.6,372.4 602.5,365.9" fill="#fba818" stroke="#fba818" stroke-width="0.6" stroke-linejoin="round"/>
<polygon points="583.4,320.9 591.2,332.6 601.6,343.0 612.0,356.0 622.4,363.8 621.1,366.9 610.7,359.1 600.3,346.1 589.9,335.7 582.1,324.0" fill="#fbb818" stroke="#fbb818" stroke-width="0.6" stroke-linejoin="round"/>
<polygon points="680.0,76.1 695.6,67.0 700.8,54.0 713.8,43.6 719.0,33.2 730.7,25.4 758.0,22.8 789.2,30.6 815.2,46.2 807.4,50.1 778.8,41.0 750.2,46.2 758.0,59.2 768.4,72.2 773.6,87.8 776.2,100.8 784.0,113.8 791.8,121.6 794.4,132.0 802.2,142.4 807.4,143.7 794.4,155.4 784.0,160.6 768.4,176.2 758.0,181.4 750.2,168.4 742.4,165.8 737.2,173.6 721.6,186.6 706.0,199.6 695.6,207.4 693.0,191.8 690.4,171.0 691.7,150.2 685.2,137.2 680.0,124.2 684.8,139.8 679.6,126.8 671.8,113.8 664.0,103.4 658.8,93.0 656.2,81.3 653.6,77.4 671.8,67.0 679.6,77.4" fill="#c96600" stroke="#c96600" stroke-width="0.6" stroke-linejoin="round"/>
<polygon points="750.2,46.2 778.8,41.0 807.4,50.1 825.6,67.0 841.2,87.8 856.8,113.8 862.0,137.2 872.4,160.6 877.6,171.0 888.0,191.8 898.4,212.6 908.8,236.0 919.2,256.8 927.0,275.0 930.9,272.8 940.0,280.6 960.8,343.0 960.8,447.0 897.1,405.4 901.0,384.6 907.5,369.0 906.2,350.8 911.4,332.6 906.2,327.4 901.0,330.0 899.7,340.4 893.2,350.8 888.0,369.0 885.4,374.2 877.6,363.8 875.0,350.8 862.0,356.0 856.8,348.2 846.4,340.4 836.0,330.0 825.6,319.6 815.2,311.8 802.2,302.7 791.8,298.8 780.1,297.5 776.2,291.0 771.0,280.6 773.6,265.0 774.9,275.0 776.2,241.2 774.9,230.8 776.2,225.6 794.4,220.4 799.6,210.0 812.6,194.4 815.2,176.2 823.0,163.2 815.2,147.6 807.4,143.7 802.2,142.4 794.4,132.0 791.8,121.6 784.0,113.8 776.2,100.8 773.6,87.8 768.4,72.2 758.0,59.2" fill="#ff8c00" stroke="#ff8c00" stroke-width="0.6" stroke-linejoin="round"/>
<polygon points="807.4,50.1 811.3,61.8 820.4,74.8 825.6,87.8 836.0,100.8 849.0,119.0 859.4,134.6 863.3,142.4 872.4,160.6 877.6,171.0 882.8,163.2 895.8,155.4 908.8,150.2 914.0,139.8 888.0,113.8 862.0,87.8 836.0,64.4 815.2,46.2" fill="#ffa610" stroke="#ffa610" stroke-width="0.6" stroke-linejoin="round"/>
<polygon points="859.4,139.8 869.8,129.4 885.4,128.1 888.0,134.6 880.2,145.0 873.7,154.1 864.6,150.2" fill="#fad030" stroke="#fad030" stroke-width="0.6" stroke-linejoin="round"/>
<polygon points="877.6,171.0 882.8,163.2 895.8,155.4 908.8,150.2 940.0,171.0 966.0,275.0 966.0,265.0 940.0,280.6 930.9,272.8 927.0,275.0 919.2,256.8 908.8,236.0 898.4,212.6 888.0,191.8" fill="#c96600" stroke="#c96600" stroke-width="0.6" stroke-linejoin="round"/>
<polygon points="682.6,76.1 693.0,68.3 700.8,61.8 702.1,74.8 698.2,87.8 687.8,82.6" fill="#8a4800" stroke="#8a4800" stroke-width="0.6" stroke-linejoin="round"/>
<polygon points="738.5,54.0 745.0,48.8 750.2,52.7 752.8,61.8 745.0,67.0 741.1,67.0" fill="#000" stroke="#000" stroke-width="0.6" stroke-linejoin="round"/>
<polygon points="699.5,61.8 702.1,54.0 713.8,48.8 715.1,59.2 706.0,67.0" fill="#e87800" stroke="#e87800" stroke-width="0.6" stroke-linejoin="round"/>
<polygon points="780.1,297.5 791.8,298.8 802.2,302.7 815.2,311.8 825.6,319.6 836.0,330.0 846.4,340.4 856.8,348.2 862.0,356.0 856.8,363.8 846.4,374.2 836.0,384.6 828.2,392.4 821.7,395.0 810.0,389.8 802.2,387.2 791.8,385.9 778.8,387.2 777.5,379.4 768.4,384.6 763.2,395.0 755.4,402.8 745.0,405.4 735.9,413.2 730.7,422.3 724.2,427.5 719.0,439.2 711.2,447.0 700.8,441.8 690.4,434.0 680.0,428.8 679.6,431.4 669.2,426.2 661.4,421.0 658.8,410.6 664.0,402.8 674.4,389.8 679.6,384.6 690.0,376.8 687.8,376.8 698.2,363.8 706.0,356.0 716.4,345.6 726.8,340.4 745.0,340.4 752.8,330.0 760.6,317.0 768.4,306.6" fill="#321a00" stroke="#321a00" stroke-width="0.6" stroke-linejoin="round"/>
<polygon points="493.7,250.3 508.0,252.9 528.8,255.5 530.1,259.4 515.8,260.7 497.6,255.5" fill="#fad030" stroke="#fad030" stroke-width="0.6" stroke-linejoin="round"/>
<polygon points="497.6,256.8 515.8,260.7 530.1,259.4 531.4,264.6 521.0,275.0 500.2,275.0" fill="#8a4800" stroke="#8a4800" stroke-width="0.6" stroke-linejoin="round"/>
<polygon points="440.4,297.5 449.5,300.1 463.8,301.4 482.0,305.3 479.4,310.5 469.0,317.0 461.2,327.4 453.4,336.5 445.6,327.4 437.8,309.2" fill="#c96600" stroke="#c96600" stroke-width="0.6" stroke-linejoin="round"/>
<polygon points="453.4,336.5 461.2,327.4 469.0,317.0 479.4,310.5 491.1,306.6 497.6,304.0 502.8,298.8 505.4,311.8 513.2,319.6 515.8,332.6 521.0,343.0 528.8,353.4 536.6,361.2 541.8,382.0 544.4,389.8 539.2,397.6 528.8,400.2 518.4,410.6 508.0,423.6 497.6,426.2 489.8,431.4 461.2,395.0 443.0,343.0" fill="#ff8c00" stroke="#ff8c00" stroke-width="0.6" stroke-linejoin="round"/>
<polygon points="502.8,298.8 518.4,291.0 534.0,301.4 560.0,314.4 575.6,327.4 586.0,343.0 583.4,363.8 588.6,376.8 606.8,374.2 622.4,379.4 630.2,389.8 622.4,400.2 612.0,410.6 596.4,413.2 588.6,408.0 591.2,418.4 575.6,426.2 560.0,431.4 544.4,436.6 534.0,444.4 515.8,452.2 508.0,444.4 489.8,431.4 497.6,426.2 508.0,423.6 518.4,410.6 528.8,400.2 539.2,397.6 544.4,389.8 541.8,382.0 536.6,361.2 528.8,353.4 521.0,343.0 515.8,332.6 513.2,319.6 505.4,311.8" fill="#d06a00" stroke="#d06a00" stroke-width="0.6" stroke-linejoin="round"/>
<polygon points="519.7,270.2 528.8,265.0 547.0,266.3 567.8,275.4 571.7,288.4 574.3,296.2 579.5,304.0 575.6,313.1 583.4,320.9 596.4,326.1 592.5,332.6 583.4,330.0 575.6,322.2 565.2,314.4 554.8,306.6 541.8,298.8 528.8,291.0 519.7,283.2" fill="#a85400" stroke="#a85400" stroke-width="0.6" stroke-linejoin="round"/>
<polygon points="505.4,270.2 518.4,272.8 519.7,283.2 515.8,293.6 508.0,288.4" fill="#f58000" stroke="#f58000" stroke-width="0.6" stroke-linejoin="round"/>
<polygon points="515.8,452.2 534.0,444.4 544.4,436.6 560.0,431.4 575.6,426.2 591.2,418.4 588.6,408.0 596.4,413.2 612.0,410.6 622.4,400.2 630.2,389.8 635.4,382.0 645.8,387.2 656.2,392.4 658.8,410.6 661.4,421.0 669.2,426.2 679.6,431.4 680.0,428.8 690.4,434.0 700.8,441.8 711.2,447.0 726.8,447.0 739.8,452.2 758.0,457.4 773.6,467.8 786.6,488.6 794.4,478.2 802.2,462.6 812.6,461.3 825.6,467.8 841.2,478.2 810.0,551.0 498.0,551.0" fill="#c06000" stroke="#c06000" stroke-width="0.6" stroke-linejoin="round"/>
<polygon points="536.6,436.6 552.2,431.4 570.4,427.5 586.0,423.6 606.8,423.6 626.3,428.8 612.0,432.7 596.4,436.6 586.0,447.0 570.4,452.2 549.6,449.6" fill="#fad030" stroke="#fad030" stroke-width="0.6" stroke-linejoin="round"/>
<polygon points="640.6,486.0 664.0,491.2 690.0,492.5 695.6,491.2 713.8,493.8 730.7,496.4 728.1,514.6 719.0,538.0 654.0,538.0 664.0,514.6 656.2,499.0" fill="#fad030" stroke="#fad030" stroke-width="0.6" stroke-linejoin="round"/>
<polygon points="586.0,376.8 606.8,374.2 622.4,379.4 630.2,389.8 622.4,400.2 612.0,410.6 596.4,413.2 588.6,408.0" fill="#d06a00" stroke="#d06a00" stroke-width="0.6" stroke-linejoin="round"/>
<polygon points="583.4,343.0 588.6,353.4 601.6,366.4 606.8,374.2 588.6,376.8 583.4,363.8" fill="#c06000" stroke="#c06000" stroke-width="0.6" stroke-linejoin="round"/>
<polygon points="600.3,418.4 612.0,417.1 635.4,419.7 635.4,422.3 617.2,423.6 601.6,422.3" fill="#000" stroke="#000" stroke-width="0.6" stroke-linejoin="round"/>
<polygon points="586.0,405.4 596.4,413.2 612.0,410.6 622.4,400.2 630.2,389.8 645.8,392.4 635.4,382.0 627.6,389.8 619.8,397.6 609.4,405.4 596.4,408.0 588.6,402.8" fill="#ff8c00" stroke="#ff8c00" stroke-width="0.6" stroke-linejoin="round"/>
<polygon points="680.0,431.4 690.4,434.0 700.8,441.8 711.2,447.0 706.0,462.6 699.5,462.6 706.0,478.2 713.8,491.2 695.6,491.2 680.0,492.5" fill="#a85400" stroke="#a85400" stroke-width="0.6" stroke-linejoin="round"/>
<polygon points="862.0,356.0 875.0,350.8 877.6,363.8 885.4,374.2 888.0,369.0 893.2,350.8 899.7,340.4 901.0,330.0 906.2,327.4 911.4,332.6 906.2,350.8 907.5,369.0 901.0,384.6 897.1,405.4 880.2,428.8 873.7,418.4 862.0,408.0 851.6,402.8 838.6,397.6 836.0,384.6 846.4,374.2 856.8,363.8" fill="#fad030" stroke="#fad030" stroke-width="0.6" stroke-linejoin="round"/>
<polygon points="873.7,382.0 881.5,378.1 890.6,383.3 895.8,392.4 893.2,402.8 882.8,400.2 873.7,395.0" fill="#ff9a0a" stroke="#ff9a0a" stroke-width="0.6" stroke-linejoin="round"/>
<polygon points="893.2,350.8 899.7,340.4 901.0,330.0 906.2,327.4 911.4,332.6 906.2,350.8 907.5,369.0 901.0,384.6 897.1,400.2 890.6,383.3 888.0,369.0" fill="#fad030" stroke="#fad030" stroke-width="0.6" stroke-linejoin="round"/>
<polygon points="826.9,389.8 833.4,384.6 842.5,382.0 843.8,387.2 836.0,393.7 829.5,395.0" fill="#fad030" stroke="#fad030" stroke-width="0.6" stroke-linejoin="round"/>
<polygon points="821.7,395.0 829.5,395.0 838.6,397.6 851.6,402.8 862.0,408.0 873.7,418.4 880.2,428.8 862.0,462.6 841.2,478.2 825.6,467.8 812.6,461.3 802.2,462.6 798.3,447.0 795.7,426.2 802.2,418.4 812.6,414.5 815.2,405.4" fill="#9a5000" stroke="#9a5000" stroke-width="0.6" stroke-linejoin="round"/>
<polygon points="777.5,379.4 778.8,387.2 791.8,385.9 802.2,387.2 810.0,389.8 821.7,395.0 815.2,405.4 812.6,414.5 802.2,418.4 795.7,426.2 798.3,447.0 802.2,462.6 794.4,478.2 786.6,488.6 773.6,467.8 758.0,457.4 739.8,452.2 726.8,447.0 719.0,439.2 724.2,427.5 730.7,422.3 735.9,413.2 745.0,405.4 755.4,402.8 763.2,395.0 768.4,384.6" fill="#f58000" stroke="#f58000" stroke-width="0.6" stroke-linejoin="round"/>
<polygon points="742.4,436.6 758.0,426.2 778.8,423.6 786.6,431.4 784.0,447.0 794.4,457.4 799.6,465.2 794.4,470.4 778.8,462.6 763.2,457.4 750.2,447.0" fill="#6a3800" stroke="#6a3800" stroke-width="0.6" stroke-linejoin="round"/>
<polygon points="735.9,421.0 745.0,408.0 752.8,421.0 750.2,424.9 738.5,426.2" fill="#a85400" stroke="#a85400" stroke-width="0.6" stroke-linejoin="round"/>
<polygon points="729.4,421.0 735.9,410.6 745.0,404.1 747.6,406.7 738.5,415.8 733.3,423.6" fill="#fad030" stroke="#fad030" stroke-width="0.6" stroke-linejoin="round"/>
<polygon points="778.8,444.4 785.3,431.4 789.2,444.4 787.9,454.8 782.7,452.2" fill="#fad030" stroke="#fad030" stroke-width="0.6" stroke-linejoin="round"/>
<polygon points="784.0,431.4 791.8,421.0 797.0,447.0 794.4,457.4 787.9,454.8 789.2,444.4" fill="#ff9a0a" stroke="#ff9a0a" stroke-width="0.6" stroke-linejoin="round"/>
<polygon points="794.4,473.0 802.2,462.6 812.6,461.3 825.6,467.8 841.2,478.2 825.6,491.2 806.1,489.9 802.2,480.8 794.4,486.0" fill="#fad030" stroke="#fad030" stroke-width="0.6" stroke-linejoin="round"/>
<polygon points="694.3,444.4 711.2,447.0 713.8,452.2 706.0,462.6 699.5,462.6 693.0,454.8" fill="#fad030" stroke="#fad030" stroke-width="0.6" stroke-linejoin="round"/>
<polygon points="699.5,462.6 713.8,447.0 732.0,447.0 752.8,454.8 768.4,462.6 784.0,470.4 791.8,473.0 794.4,486.0 802.2,480.8 806.1,489.9 784.0,525.0 729.4,525.0 729.4,515.9 732.0,499.0 713.8,491.2 706.0,478.2" fill="#000" stroke="#000" stroke-width="0.6" stroke-linejoin="round"/>
<polygon points="732.0,496.4 735.9,486.0 745.0,478.2 748.9,480.8 745.0,491.2 741.1,506.8 738.5,514.6 729.4,514.6" fill="#000" stroke="#000" stroke-width="0.6" stroke-linejoin="round"/>
</g></g>
<defs><linearGradient id="cbm" x1="0" y1="1" x2="0" y2="0"><stop offset="0" stop-color="#000"/><stop offset="0.08" stop-color="#0c0500"/><stop offset="0.2" stop-color="#2c1600"/><stop offset="0.3" stop-color="#4e2800"/><stop offset="0.4" stop-color="#804000"/><stop offset="0.5" stop-color="#c06200"/><stop offset="0.6" stop-color="#f07e00"/><stop offset="0.68" stop-color="#ff9406"/><stop offset="0.8" stop-color="#ffa80e"/><stop offset="0.9" stop-color="#fdbe16"/><stop offset="1" stop-color="#fbd820"/></linearGradient></defs>
<defs><linearGradient id="cbg" x1="0" y1="1" x2="0" y2="0"><stop offset="0" stop-color="#000"/><stop offset="0.05" stop-color="#0c0500"/><stop offset="0.1" stop-color="#241100"/><stop offset="0.2" stop-color="#663300"/><stop offset="0.3" stop-color="#a65400"/><stop offset="0.4" stop-color="#d86c00"/><stop offset="0.5" stop-color="#ff8a00"/><stop offset="0.62" stop-color="#ff9a08"/><stop offset="0.8" stop-color="#fdb814"/><stop offset="1" stop-color="#fbd820"/></linearGradient></defs>
<rect x="957" y="1" width="41.5" height="536" fill="url(#cbm)"/>
<line x1="957.3" y1="1" x2="957.3" y2="537" stroke="#000" stroke-width="2.2"/>
<rect x="421.8" y="1" width="576.7" height="536" fill="none" stroke="#000" stroke-width="2"/>
<rect x="957" y="548.7" width="41.5" height="535.5" fill="url(#cbm)"/>
<line x1="957.3" y1="548.7" x2="957.3" y2="1084.2" stroke="#000" stroke-width="2.2"/>
<rect x="421.8" y="548.7" width="576.7" height="535.5" fill="none" stroke="#000" stroke-width="2"/>
<rect x="957" y="1096.2" width="41.5" height="535.5" fill="url(#cbg)"/>
<line x1="957.3" y1="1096.2" x2="957.3" y2="1631.7" stroke="#000" stroke-width="2.2"/>
<rect x="421.8" y="1096.2" width="576.7" height="535.5" fill="none" stroke="#000" stroke-width="2"/>
<text x="431.3" y="33.8" font-size="42" fill="#000" font-weight="bold" textLength="19.5" lengthAdjust="spacingAndGlyphs">c</text>
<text x="432.2" y="582.2" font-size="42" fill="#000" font-weight="bold" textLength="22.5" lengthAdjust="spacingAndGlyphs">e</text>
<text x="432.5" y="1132.3" font-size="42" fill="#000" font-weight="bold" textLength="24.5" lengthAdjust="spacingAndGlyphs">g</text>
<text x="893" y="42.2" font-size="38.4" fill="#000" font-weight="bold" textLength="47" lengthAdjust="spacingAndGlyphs">Rh</text>
<text x="846.5" y="587.2" font-size="38.4" font-weight="bold" textLength="104.5" lengthAdjust="spacingAndGlyphs">RhO<tspan font-size="27" dy="8">x</tspan></text>
<text x="987.5" y="107.9" font-size="32" fill="#000" font-weight="bold" textLength="98" lengthAdjust="spacingAndGlyphs" transform="rotate(-90 987.5 107.9)">6 µm/s</text>
<text x="987.5" y="366.4" font-size="32" fill="#fff" font-weight="bold" textLength="198" lengthAdjust="spacingAndGlyphs" transform="rotate(-90 987.5 366.4)">front velocity</text>
<text x="987.5" y="526" font-size="32" fill="#fff" font-weight="bold" textLength="98.8" lengthAdjust="spacingAndGlyphs" transform="rotate(-90 987.5 526)">0 µm/s</text>
<text x="987.5" y="655.1999999999999" font-size="32" fill="#000" font-weight="bold" textLength="98" lengthAdjust="spacingAndGlyphs" transform="rotate(-90 987.5 655.1999999999999)">6 µm/s</text>
<text x="987.5" y="913.6999999999999" font-size="32" fill="#fff" font-weight="bold" textLength="198" lengthAdjust="spacingAndGlyphs" transform="rotate(-90 987.5 913.6999999999999)">front velocity</text>
<text x="987.5" y="1073.3" font-size="32" fill="#fff" font-weight="bold" textLength="98.8" lengthAdjust="spacingAndGlyphs" transform="rotate(-90 987.5 1073.3)">0 µm/s</text>
<text x="986.7" y="1190.5" font-size="30.5" fill="#000" font-weight="bold" textLength="86" lengthAdjust="spacingAndGlyphs" transform="rotate(-90 986.7 1190.5)">450%</text>
<text x="986.7" y="1561" font-size="30.5" fill="#fff" font-weight="bold" textLength="359.5" lengthAdjust="spacingAndGlyphs" transform="rotate(-90 986.7 1561)">front velocity difference</text>
<text x="986.7" y="1623.4" font-size="30.5" fill="#fff" font-weight="bold" textLength="48" lengthAdjust="spacingAndGlyphs" transform="rotate(-90 986.7 1623.4)">0%</text>
<text x="791.8" y="135.4" font-size="28" fill="#fff" text-anchor="middle" textLength="17" lengthAdjust="spacingAndGlyphs" transform="rotate(-29.7 791.8 135.4) translate(0 10.0)">A</text>
<text x="843.0" y="101.4" font-size="28" fill="#fff" text-anchor="middle" textLength="21" lengthAdjust="spacingAndGlyphs" transform="rotate(-29.7 843.0 101.4) translate(0 10.0)">A′</text>
<text x="832.9" y="142.9" font-size="24.5" fill="#fff" text-anchor="middle" font-weight="bold" textLength="45" lengthAdjust="spacingAndGlyphs" transform="rotate(-29.7 832.9 142.9) translate(0 8.8)">ROI</text>
<line x1="802.2" y1="125.5" x2="829.5" y2="109.9" stroke="#fff" stroke-width="4.8"/>
<text x="791.8" y="682.6999999999999" font-size="28" fill="#000" text-anchor="middle" textLength="17" lengthAdjust="spacingAndGlyphs" transform="rotate(-29.7 791.8 682.6999999999999) translate(0 10.0)">A</text>
<text x="843.0" y="648.6999999999999" font-size="28" fill="#000" text-anchor="middle" textLength="21" lengthAdjust="spacingAndGlyphs" transform="rotate(-29.7 843.0 648.6999999999999) translate(0 10.0)">A′</text>
<text x="832.9" y="690.1999999999999" font-size="24.5" fill="#000" text-anchor="middle" font-weight="bold" textLength="45" lengthAdjust="spacingAndGlyphs" transform="rotate(-29.7 832.9 690.1999999999999) translate(0 8.8)">ROI</text>
<line x1="802.2" y1="672.8" x2="829.5" y2="657.1999999999999" stroke="#000" stroke-width="4.8"/>
<circle cx="733.3" cy="1215.3" r="16.2" fill="#ffff00" stroke="#000" stroke-width="2.2"/>
<text x="733.3" y="1225.74" font-size="29" fill="#000" text-anchor="middle" textLength="15" lengthAdjust="spacingAndGlyphs">1</text>
<circle cx="611" cy="1259.3" r="16.2" fill="#ffff00" stroke="#000" stroke-width="2.2"/>
<text x="611" y="1269.74" font-size="29" fill="#000" text-anchor="middle" textLength="15" lengthAdjust="spacingAndGlyphs">3</text>
<circle cx="670" cy="1285.5" r="16.2" fill="#ffff00" stroke="#000" stroke-width="2.2"/>
<text x="670" y="1295.94" font-size="29" fill="#000" text-anchor="middle" textLength="15" lengthAdjust="spacingAndGlyphs">2</text>
<circle cx="540.5" cy="1314" r="16.2" fill="#ffff00" stroke="#000" stroke-width="2.2"/>
<text x="540.5" y="1324.44" font-size="29" fill="#000" text-anchor="middle" textLength="15" lengthAdjust="spacingAndGlyphs">1</text>
<circle cx="461.7" cy="1342" r="16.2" fill="#ffff00" stroke="#000" stroke-width="2.2"/>
<text x="461.7" y="1352.44" font-size="29" fill="#000" text-anchor="middle" textLength="25.5" lengthAdjust="spacingAndGlyphs">10</text>
<circle cx="740" cy="1307" r="16.2" fill="#ffff00" stroke="#000" stroke-width="2.2"/>
<text x="740" y="1317.44" font-size="29" fill="#000" text-anchor="middle" textLength="15" lengthAdjust="spacingAndGlyphs">4</text>
<circle cx="819.5" cy="1350" r="16.2" fill="#ffff00" stroke="#000" stroke-width="2.2"/>
<text x="819.5" y="1360.44" font-size="29" fill="#000" text-anchor="middle" textLength="15" lengthAdjust="spacingAndGlyphs">5</text>
<circle cx="758" cy="1373.7" r="16.2" fill="#ffff00" stroke="#000" stroke-width="2.2"/>
<text x="758" y="1384.14" font-size="29" fill="#000" text-anchor="middle" textLength="15" lengthAdjust="spacingAndGlyphs">6</text>
<circle cx="636.5" cy="1392.3" r="16.2" fill="#ffff00" stroke="#000" stroke-width="2.2"/>
<text x="636.5" y="1402.74" font-size="29" fill="#000" text-anchor="middle" textLength="15" lengthAdjust="spacingAndGlyphs">4</text>
<circle cx="692" cy="1442.3" r="16.2" fill="#ffff00" stroke="#000" stroke-width="2.2"/>
<text x="692" y="1452.74" font-size="29" fill="#000" text-anchor="middle" textLength="15" lengthAdjust="spacingAndGlyphs">7</text>
<circle cx="563.5" cy="1468" r="16.2" fill="#ffff00" stroke="#000" stroke-width="2.2"/>
<text x="563.5" y="1478.44" font-size="29" fill="#000" text-anchor="middle" textLength="15" lengthAdjust="spacingAndGlyphs">9</text>
<circle cx="716" cy="1485" r="16.2" fill="#ffff00" stroke="#000" stroke-width="2.2"/>
<text x="716" y="1495.44" font-size="29" fill="#000" text-anchor="middle" textLength="15" lengthAdjust="spacingAndGlyphs">4</text>
<circle cx="648" cy="1549.3" r="16.2" fill="#ffff00" stroke="#000" stroke-width="2.2"/>
<text x="648" y="1559.74" font-size="29" fill="#000" text-anchor="middle" textLength="15" lengthAdjust="spacingAndGlyphs">8</text>
<defs><linearGradient id="cbf" x1="0" y1="1" x2="0" y2="0"><stop offset="0" stop-color="#000"/><stop offset="0.07" stop-color="#2a1400"/><stop offset="0.14" stop-color="#5a2e00"/><stop offset="0.21" stop-color="#884600"/><stop offset="0.33" stop-color="#b86000"/><stop offset="0.42" stop-color="#e87800"/><stop offset="0.5" stop-color="#ff8c00"/><stop offset="0.65" stop-color="#ffa00a"/><stop offset="0.8" stop-color="#fdba14"/><stop offset="1" stop-color="#fbd820"/></linearGradient></defs>
<rect x="38.2" y="1250.5" width="38" height="337.9000000000001" fill="url(#cbf)"/>
<polygon points="98.8,1520 377,1251.5 388.8,1251.5 388.8,1491.2 98.8,1580.8" fill="#fde0c8"/>
<rect x="38.2" y="1250.5" width="367.40000000000003" height="337.9000000000001" fill="none" stroke="#000" stroke-width="3"/>
<line x1="38.0" y1="1588.4" x2="38.0" y2="1592.9" stroke="#000" stroke-width="2"/>
<line x1="68.7" y1="1588.4" x2="68.7" y2="1592.9" stroke="#000" stroke-width="2"/>
<line x1="99.3" y1="1588.4" x2="99.3" y2="1597.4" stroke="#000" stroke-width="2"/>
<line x1="129.9" y1="1588.4" x2="129.9" y2="1592.9" stroke="#000" stroke-width="2"/>
<line x1="160.6" y1="1588.4" x2="160.6" y2="1592.9" stroke="#000" stroke-width="2"/>
<line x1="191.2" y1="1588.4" x2="191.2" y2="1592.9" stroke="#000" stroke-width="2"/>
<line x1="221.8" y1="1588.4" x2="221.8" y2="1597.4" stroke="#000" stroke-width="2"/>
<line x1="252.4" y1="1588.4" x2="252.4" y2="1592.9" stroke="#000" stroke-width="2"/>
<line x1="283.1" y1="1588.4" x2="283.1" y2="1592.9" stroke="#000" stroke-width="2"/>
<line x1="313.7" y1="1588.4" x2="313.7" y2="1592.9" stroke="#000" stroke-width="2"/>
<line x1="344.3" y1="1588.4" x2="344.3" y2="1597.4" stroke="#000" stroke-width="2"/>
<line x1="375.0" y1="1588.4" x2="375.0" y2="1592.9" stroke="#000" stroke-width="2"/>
<text x="0" y="1279.5" font-size="40" fill="#000" font-weight="bold" textLength="14.5" lengthAdjust="spacingAndGlyphs">f</text>
<text x="24.5" y="1437" font-size="30" fill="#000" text-anchor="middle" textLength="288" lengthAdjust="spacingAndGlyphs" transform="rotate(-90 24.5 1437)">fr. velocity difference</text>
<text x="66.6" y="1331.8" font-size="28" fill="#000" font-weight="bold" textLength="72.5" lengthAdjust="spacingAndGlyphs" transform="rotate(-90 66.6 1331.8)">450%</text>
<text x="67.2" y="1580.2" font-size="28.5" fill="#fff" font-weight="bold" textLength="43.5" lengthAdjust="spacingAndGlyphs" transform="rotate(-90 67.2 1580.2)">0%</text>
<line x1="57.9" y1="1516.6" x2="57.9" y2="1361" stroke="#fff" stroke-width="3.8"/>
<polygon points="58.2,1350 66.4,1363.5 50,1363.5" fill="#fff"/>
<rect x="367.0" y="1263.9" width="9.4" height="9.4" fill="#000"/>
<text x="370.09999999999997" y="1302.1999999999998" font-size="28.6" fill="#000" text-anchor="middle" textLength="30.5" lengthAdjust="spacingAndGlyphs">10</text>
<rect x="311.6" y="1413.0" width="9.4" height="9.4" fill="#000"/>
<text x="326.1" y="1427.7" font-size="28.6" fill="#000" textLength="14.8" lengthAdjust="spacingAndGlyphs">5</text>
<rect x="167.5" y="1471.0" width="9.4" height="9.4" fill="#000"/>
<text x="182.0" y="1485.7" font-size="28.6" fill="#000" textLength="14.8" lengthAdjust="spacingAndGlyphs">1</text>
<rect x="296.0" y="1467.6" width="9.4" height="9.4" fill="#000"/>
<text x="310.5" y="1482.3" font-size="28.6" fill="#000" textLength="14.8" lengthAdjust="spacingAndGlyphs">9</text>
<rect x="376.7" y="1479.4" width="9.4" height="9.4" fill="#000"/>
<text x="371.9" y="1494.5" font-size="28.6" fill="#000" text-anchor="end" textLength="15" lengthAdjust="spacingAndGlyphs">8</text>
<rect x="199.8" y="1503.3" width="9.4" height="9.4" fill="#000"/>
<text x="214.3" y="1518" font-size="28.6" fill="#000" textLength="14.8" lengthAdjust="spacingAndGlyphs">6</text>
<rect x="101.6" y="1522.7" width="9.4" height="9.4" fill="#000"/>
<text x="116.1" y="1537.4" font-size="28.6" fill="#000" textLength="14.8" lengthAdjust="spacingAndGlyphs">7</text>
<rect x="188.5" y="1527.3" width="9.4" height="9.4" fill="#000"/>
<text x="203.0" y="1542" font-size="28.6" fill="#000" textLength="14.8" lengthAdjust="spacingAndGlyphs">3</text>
<rect x="109.5" y="1562.6" width="9.4" height="9.4" fill="#000"/>
<text x="119.0" y="1563.3" font-size="28.6" fill="#000" textLength="15" lengthAdjust="spacingAndGlyphs">4</text>
<rect x="362.0" y="1584.3" width="9.4" height="9.4" fill="#000"/>
<text x="367.0" y="1577.5" font-size="28.6" fill="#000" text-anchor="middle" textLength="15" lengthAdjust="spacingAndGlyphs">2</text>
<text x="99.3" y="1627.4" font-size="26" fill="#000" text-anchor="middle" textLength="29.5" lengthAdjust="spacingAndGlyphs">60</text>
<text x="344.3" y="1627.4" font-size="26" fill="#000" text-anchor="middle" textLength="29.5" lengthAdjust="spacingAndGlyphs">80</text>
<text x="159.3" y="1625" font-size="32" textLength="123.5" lengthAdjust="spacingAndGlyphs">RhO<tspan font-size="21" dy="7.5">x</tspan><tspan font-size="32" dy="-7.5"> [%]</tspan></text>
<rect x="38" y="1643.4" width="959.5" height="94.2" fill="none" stroke="#000" stroke-width="2"/>
<text x="0" y="1671" font-size="41.5" fill="#000" font-weight="bold" textLength="20.5" lengthAdjust="spacingAndGlyphs">h</text>
<circle cx="71.75" cy="1670.5" r="16.2" fill="#ffff00" stroke="#000" stroke-width="2.2"/>
<text x="71.75" y="1680.94" font-size="29" fill="#000" text-anchor="middle" textLength="15" lengthAdjust="spacingAndGlyphs">1</text>
<text x="96.75" y="1680.0" font-size="27" fill="#000" textLength="102.5" lengthAdjust="spacingAndGlyphs">(11 11 7)</text>
<circle cx="272.0" cy="1670.5" r="16.2" fill="#ffff00" stroke="#000" stroke-width="2.2"/>
<text x="272.0" y="1680.94" font-size="29" fill="#000" text-anchor="middle" textLength="15" lengthAdjust="spacingAndGlyphs">2</text>
<text x="297.0" y="1680.0" font-size="27" fill="#000" textLength="87.5" lengthAdjust="spacingAndGlyphs">(13 9 1)</text>
<circle cx="472.25" cy="1670.5" r="16.2" fill="#ffff00" stroke="#000" stroke-width="2.2"/>
<text x="472.25" y="1680.94" font-size="29" fill="#000" text-anchor="middle" textLength="15" lengthAdjust="spacingAndGlyphs">3</text>
<text x="497.25" y="1680.0" font-size="27" fill="#000" textLength="102.5" lengthAdjust="spacingAndGlyphs">(15 10 9)</text>
<circle cx="672.5" cy="1670.5" r="16.2" fill="#ffff00" stroke="#000" stroke-width="2.2"/>
<text x="672.5" y="1680.94" font-size="29" fill="#000" text-anchor="middle" textLength="15" lengthAdjust="spacingAndGlyphs">4</text>
<text x="697.5" y="1680.0" font-size="27" fill="#000" textLength="87" lengthAdjust="spacingAndGlyphs">(18 1 1)</text>
<circle cx="872.75" cy="1670.5" r="16.2" fill="#ffff00" stroke="#000" stroke-width="2.2"/>
<text x="872.75" y="1680.94" font-size="29" fill="#000" text-anchor="middle" textLength="15" lengthAdjust="spacingAndGlyphs">5</text>
<text x="897.75" y="1680.0" font-size="27" fill="#000" textLength="86.5" lengthAdjust="spacingAndGlyphs">(11 7 3)</text>
<circle cx="71.75" cy="1711.0" r="16.2" fill="#ffff00" stroke="#000" stroke-width="2.2"/>
<text x="71.75" y="1721.44" font-size="29" fill="#000" text-anchor="middle" textLength="15" lengthAdjust="spacingAndGlyphs">6</text>
<text x="98.75" y="1720.5" font-size="27" fill="#000" textLength="71" lengthAdjust="spacingAndGlyphs">(2 1 1)</text>
<circle cx="272.0" cy="1711.0" r="16.2" fill="#ffff00" stroke="#000" stroke-width="2.2"/>
<text x="272.0" y="1721.44" font-size="29" fill="#000" text-anchor="middle" textLength="15" lengthAdjust="spacingAndGlyphs">7</text>
<text x="297.0" y="1720.5" font-size="27" fill="#000" textLength="102.5" lengthAdjust="spacingAndGlyphs">(12 12 5)</text>
<circle cx="472.25" cy="1711.0" r="16.2" fill="#ffff00" stroke="#000" stroke-width="2.2"/>
<text x="472.25" y="1721.44" font-size="29" fill="#000" text-anchor="middle" textLength="15" lengthAdjust="spacingAndGlyphs">8</text>
<text x="497.25" y="1720.5" font-size="27" fill="#000" textLength="102.5" lengthAdjust="spacingAndGlyphs">(17 10 2)</text>
<circle cx="672.5" cy="1711.0" r="16.2" fill="#ffff00" stroke="#000" stroke-width="2.2"/>
<text x="672.5" y="1721.44" font-size="29" fill="#000" text-anchor="middle" textLength="15" lengthAdjust="spacingAndGlyphs">9</text>
<text x="697.5" y="1720.5" font-size="27" fill="#000" textLength="101" lengthAdjust="spacingAndGlyphs">(17 10 5)</text>
<circle cx="872.75" cy="1711.0" r="16.2" fill="#ffff00" stroke="#000" stroke-width="2.2"/>
<text x="872.75" y="1721.44" font-size="29" fill="#000" text-anchor="middle" textLength="25.5" lengthAdjust="spacingAndGlyphs">10</text>
<text x="897.75" y="1720.5" font-size="27" fill="#000" textLength="86.5" lengthAdjust="spacingAndGlyphs">(19 5 0)</text>
</svg>
</body></html>
